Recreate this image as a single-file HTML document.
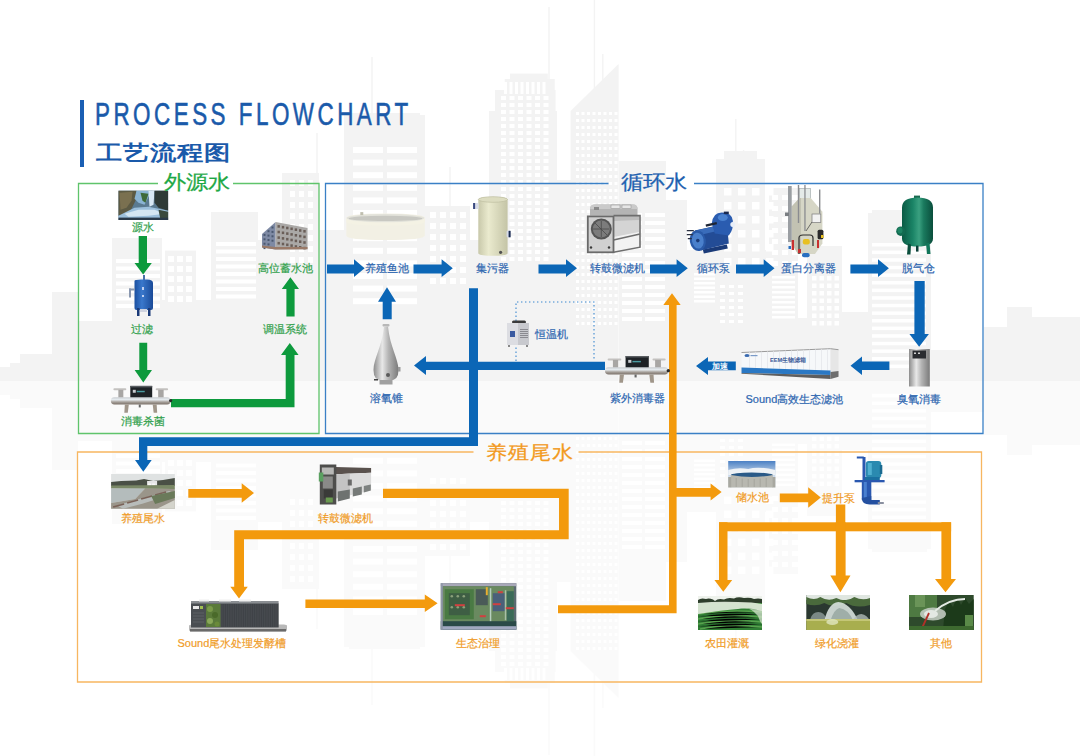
<!DOCTYPE html>
<html><head><meta charset="utf-8"><style>
html,body{margin:0;padding:0;background:#fff;width:1080px;height:756px;overflow:hidden}
body{position:relative;font-family:"Liberation Sans",sans-serif}
svg{position:absolute;left:0;top:0}
.lb{position:absolute;width:200px;text-align:center;line-height:1;white-space:nowrap;-webkit-text-stroke:0.2px currentColor}
.t{position:absolute;white-space:nowrap;line-height:1}
</style></head><body>
<svg width="1080" height="756" viewBox="0 0 1080 756">

<defs>
 <linearGradient id="steel" x1="0" y1="0" x2="0" y2="1">
  <stop offset="0" stop-color="#c8ccd0"/><stop offset="0.35" stop-color="#e6ecf0"/><stop offset="0.65" stop-color="#a8a29c"/><stop offset="1" stop-color="#7a7068"/>
 </linearGradient>
 <linearGradient id="steelH" x1="0" y1="0" x2="1" y2="0">
  <stop offset="0" stop-color="#8c8c8c"/><stop offset="0.35" stop-color="#e8e8e8"/><stop offset="0.6" stop-color="#b4b4b4"/><stop offset="1" stop-color="#7a7a7a"/>
 </linearGradient>
 <linearGradient id="blueTank" x1="0" y1="0" x2="1" y2="0">
  <stop offset="0" stop-color="#1a4fa0"/><stop offset="0.4" stop-color="#3a78cc"/><stop offset="1" stop-color="#1a4a98"/>
 </linearGradient>
 <linearGradient id="greenTank" x1="0" y1="0" x2="1" y2="0">
  <stop offset="0" stop-color="#0a5a44"/><stop offset="0.35" stop-color="#1a8466"/><stop offset="0.55" stop-color="#3aa080"/><stop offset="0.7" stop-color="#1a7a5e"/><stop offset="1" stop-color="#0a4e3c"/>
 </linearGradient>
 <linearGradient id="cream" x1="0" y1="0" x2="1" y2="0">
  <stop offset="0" stop-color="#c8c8aa"/><stop offset="0.35" stop-color="#eaeace"/><stop offset="1" stop-color="#c4c4a6"/>
 </linearGradient>
 <linearGradient id="sky" x1="0" y1="0" x2="0" y2="1">
  <stop offset="0" stop-color="#4a80c4"/><stop offset="0.5" stop-color="#c8d8ea"/><stop offset="1" stop-color="#e8eef2"/>
 </linearGradient>
 <linearGradient id="water" x1="0" y1="0" x2="1" y2="1">
  <stop offset="0" stop-color="#c8d8e4"/><stop offset="0.5" stop-color="#6a9ac0"/><stop offset="1" stop-color="#1a3a58"/>
 </linearGradient>
 <radialGradient id="spray" cx="0.5" cy="0.7" r="0.5">
  <stop offset="0" stop-color="#ffffff" stop-opacity="0.95"/><stop offset="1" stop-color="#ffffff" stop-opacity="0"/>
 </radialGradient>
</defs>
<g fill="#f3f3f3"><rect x="0" y="367" width="10" height="14"/><rect x="10" y="363" width="10" height="18"/><rect x="20" y="354" width="32" height="27"/><rect x="52" y="292" width="26" height="89"/><rect x="78" y="321" width="34" height="60"/><rect x="112" y="238" width="50" height="143"/><rect x="162" y="300" width="3" height="81"/><rect x="165" y="250.6" width="31" height="130.4"/><rect x="196" y="300" width="15" height="81"/><rect x="211" y="212" width="47" height="169"/><rect x="258" y="240" width="24" height="141"/><rect x="282" y="173" width="37" height="208"/><rect x="319" y="230" width="25" height="151"/><rect x="344" y="115" width="81" height="266"/><rect x="349" y="113" width="71" height="268"/><rect x="425" y="206" width="45" height="175"/><rect x="470" y="240" width="19" height="141"/><rect x="489" y="111" width="68" height="270"/><rect x="495" y="90" width="60.60000000000002" height="291"/><rect x="504.7" y="79" width="50.00000000000006" height="302"/><rect x="510" y="73.6" width="37.799999999999955" height="307.4"/><rect x="557" y="180" width="14" height="201"/><rect x="619" y="161" width="47" height="220"/><rect x="666" y="200" width="21" height="181"/><rect x="687" y="250" width="29" height="131"/><rect x="716" y="159" width="49" height="222"/><rect x="724" y="151" width="33" height="230"/><rect x="765" y="250" width="4" height="131"/><rect x="769" y="188" width="29" height="193"/><rect x="798" y="318" width="9" height="63"/><rect x="807" y="246" width="35" height="135"/><rect x="842" y="312" width="26" height="69"/><rect x="868" y="213" width="63" height="168"/><rect x="872" y="210" width="55" height="171"/><rect x="931" y="350" width="53" height="31"/><rect x="984" y="327" width="23" height="54"/><rect x="1007" y="307" width="25" height="74"/><rect x="1032" y="317" width="48" height="64"/><polygon points="570.6,111 618.6,64 618.6,381 570.6,381"/><rect x="548.3" y="7" width="1.4" height="73"/><rect x="593.6999999999999" y="0" width="1.4" height="90"/><rect x="602.0999999999999" y="54" width="1.4" height="26"/><rect x="316.3" y="133" width="1.4" height="42"/><rect x="371.3" y="57" width="1.4" height="61"/><rect x="735.0999999999999" y="119" width="1.4" height="33"/><rect x="742.9" y="150" width="1.4" height="2"/><rect x="449.3" y="167" width="1.4" height="41"/></g><g fill="#ffffff"><rect x="353.0" y="147.0" width="30" height="6"/><rect x="353.0" y="159.6" width="30" height="6"/><rect x="353.0" y="172.2" width="30" height="6"/><rect x="353.0" y="184.8" width="30" height="6"/><rect x="353.0" y="197.4" width="30" height="6"/><rect x="353.0" y="210.0" width="30" height="6"/><rect x="353.0" y="222.6" width="30" height="6"/><rect x="353.0" y="235.2" width="30" height="6"/><rect x="353.0" y="247.8" width="30" height="6"/><rect x="353.0" y="260.4" width="30" height="6"/><rect x="353.0" y="273.0" width="30" height="6"/><rect x="353.0" y="285.6" width="30" height="6"/><rect x="353.0" y="298.2" width="30" height="6"/><rect x="387.0" y="147.0" width="30" height="6"/><rect x="387.0" y="159.6" width="30" height="6"/><rect x="387.0" y="172.2" width="30" height="6"/><rect x="387.0" y="184.8" width="30" height="6"/><rect x="387.0" y="197.4" width="30" height="6"/><rect x="387.0" y="210.0" width="30" height="6"/><rect x="387.0" y="222.6" width="30" height="6"/><rect x="387.0" y="235.2" width="30" height="6"/><rect x="387.0" y="247.8" width="30" height="6"/><rect x="387.0" y="260.4" width="30" height="6"/><rect x="387.0" y="273.0" width="30" height="6"/><rect x="387.0" y="285.6" width="30" height="6"/><rect x="387.0" y="298.2" width="30" height="6"/><rect x="504.0" y="82.0" width="3" height="12"/><rect x="509.5" y="82.0" width="3" height="12"/><rect x="515.0" y="82.0" width="3" height="12"/><rect x="520.5" y="82.0" width="3" height="12"/><rect x="526.0" y="82.0" width="3" height="12"/><rect x="531.5" y="82.0" width="3" height="12"/><rect x="537.0" y="82.0" width="3" height="12"/><rect x="542.5" y="82.0" width="3" height="12"/><rect x="501.0" y="96.0" width="5" height="4"/><rect x="501.0" y="103.0" width="5" height="4"/><rect x="501.0" y="110.0" width="5" height="4"/><rect x="501.0" y="117.0" width="5" height="4"/><rect x="501.0" y="124.0" width="5" height="4"/><rect x="501.0" y="131.0" width="5" height="4"/><rect x="501.0" y="138.0" width="5" height="4"/><rect x="501.0" y="145.0" width="5" height="4"/><rect x="501.0" y="152.0" width="5" height="4"/><rect x="501.0" y="159.0" width="5" height="4"/><rect x="501.0" y="166.0" width="5" height="4"/><rect x="501.0" y="173.0" width="5" height="4"/><rect x="501.0" y="180.0" width="5" height="4"/><rect x="501.0" y="187.0" width="5" height="4"/><rect x="501.0" y="194.0" width="5" height="4"/><rect x="501.0" y="201.0" width="5" height="4"/><rect x="501.0" y="208.0" width="5" height="4"/><rect x="501.0" y="215.0" width="5" height="4"/><rect x="501.0" y="222.0" width="5" height="4"/><rect x="501.0" y="229.0" width="5" height="4"/><rect x="501.0" y="236.0" width="5" height="4"/><rect x="501.0" y="243.0" width="5" height="4"/><rect x="501.0" y="250.0" width="5" height="4"/><rect x="501.0" y="257.0" width="5" height="4"/><rect x="509.5" y="96.0" width="5" height="4"/><rect x="509.5" y="103.0" width="5" height="4"/><rect x="509.5" y="110.0" width="5" height="4"/><rect x="509.5" y="117.0" width="5" height="4"/><rect x="509.5" y="124.0" width="5" height="4"/><rect x="509.5" y="131.0" width="5" height="4"/><rect x="509.5" y="138.0" width="5" height="4"/><rect x="509.5" y="145.0" width="5" height="4"/><rect x="509.5" y="152.0" width="5" height="4"/><rect x="509.5" y="159.0" width="5" height="4"/><rect x="509.5" y="166.0" width="5" height="4"/><rect x="509.5" y="173.0" width="5" height="4"/><rect x="509.5" y="180.0" width="5" height="4"/><rect x="509.5" y="187.0" width="5" height="4"/><rect x="509.5" y="194.0" width="5" height="4"/><rect x="509.5" y="201.0" width="5" height="4"/><rect x="509.5" y="208.0" width="5" height="4"/><rect x="509.5" y="215.0" width="5" height="4"/><rect x="509.5" y="222.0" width="5" height="4"/><rect x="509.5" y="229.0" width="5" height="4"/><rect x="509.5" y="236.0" width="5" height="4"/><rect x="509.5" y="243.0" width="5" height="4"/><rect x="509.5" y="250.0" width="5" height="4"/><rect x="509.5" y="257.0" width="5" height="4"/><rect x="518.0" y="96.0" width="5" height="4"/><rect x="518.0" y="103.0" width="5" height="4"/><rect x="518.0" y="110.0" width="5" height="4"/><rect x="518.0" y="117.0" width="5" height="4"/><rect x="518.0" y="124.0" width="5" height="4"/><rect x="518.0" y="131.0" width="5" height="4"/><rect x="518.0" y="138.0" width="5" height="4"/><rect x="518.0" y="145.0" width="5" height="4"/><rect x="518.0" y="152.0" width="5" height="4"/><rect x="518.0" y="159.0" width="5" height="4"/><rect x="518.0" y="166.0" width="5" height="4"/><rect x="518.0" y="173.0" width="5" height="4"/><rect x="518.0" y="180.0" width="5" height="4"/><rect x="518.0" y="187.0" width="5" height="4"/><rect x="518.0" y="194.0" width="5" height="4"/><rect x="518.0" y="201.0" width="5" height="4"/><rect x="518.0" y="208.0" width="5" height="4"/><rect x="518.0" y="215.0" width="5" height="4"/><rect x="518.0" y="222.0" width="5" height="4"/><rect x="518.0" y="229.0" width="5" height="4"/><rect x="518.0" y="236.0" width="5" height="4"/><rect x="518.0" y="243.0" width="5" height="4"/><rect x="518.0" y="250.0" width="5" height="4"/><rect x="518.0" y="257.0" width="5" height="4"/><rect x="526.5" y="96.0" width="5" height="4"/><rect x="526.5" y="103.0" width="5" height="4"/><rect x="526.5" y="110.0" width="5" height="4"/><rect x="526.5" y="117.0" width="5" height="4"/><rect x="526.5" y="124.0" width="5" height="4"/><rect x="526.5" y="131.0" width="5" height="4"/><rect x="526.5" y="138.0" width="5" height="4"/><rect x="526.5" y="145.0" width="5" height="4"/><rect x="526.5" y="152.0" width="5" height="4"/><rect x="526.5" y="159.0" width="5" height="4"/><rect x="526.5" y="166.0" width="5" height="4"/><rect x="526.5" y="173.0" width="5" height="4"/><rect x="526.5" y="180.0" width="5" height="4"/><rect x="526.5" y="187.0" width="5" height="4"/><rect x="526.5" y="194.0" width="5" height="4"/><rect x="526.5" y="201.0" width="5" height="4"/><rect x="526.5" y="208.0" width="5" height="4"/><rect x="526.5" y="215.0" width="5" height="4"/><rect x="526.5" y="222.0" width="5" height="4"/><rect x="526.5" y="229.0" width="5" height="4"/><rect x="526.5" y="236.0" width="5" height="4"/><rect x="526.5" y="243.0" width="5" height="4"/><rect x="526.5" y="250.0" width="5" height="4"/><rect x="526.5" y="257.0" width="5" height="4"/><rect x="535.0" y="96.0" width="5" height="4"/><rect x="535.0" y="103.0" width="5" height="4"/><rect x="535.0" y="110.0" width="5" height="4"/><rect x="535.0" y="117.0" width="5" height="4"/><rect x="535.0" y="124.0" width="5" height="4"/><rect x="535.0" y="131.0" width="5" height="4"/><rect x="535.0" y="138.0" width="5" height="4"/><rect x="535.0" y="145.0" width="5" height="4"/><rect x="535.0" y="152.0" width="5" height="4"/><rect x="535.0" y="159.0" width="5" height="4"/><rect x="535.0" y="166.0" width="5" height="4"/><rect x="535.0" y="173.0" width="5" height="4"/><rect x="535.0" y="180.0" width="5" height="4"/><rect x="535.0" y="187.0" width="5" height="4"/><rect x="535.0" y="194.0" width="5" height="4"/><rect x="535.0" y="201.0" width="5" height="4"/><rect x="535.0" y="208.0" width="5" height="4"/><rect x="535.0" y="215.0" width="5" height="4"/><rect x="535.0" y="222.0" width="5" height="4"/><rect x="535.0" y="229.0" width="5" height="4"/><rect x="535.0" y="236.0" width="5" height="4"/><rect x="535.0" y="243.0" width="5" height="4"/><rect x="535.0" y="250.0" width="5" height="4"/><rect x="535.0" y="257.0" width="5" height="4"/><rect x="543.5" y="96.0" width="5" height="4"/><rect x="543.5" y="103.0" width="5" height="4"/><rect x="543.5" y="110.0" width="5" height="4"/><rect x="543.5" y="117.0" width="5" height="4"/><rect x="543.5" y="124.0" width="5" height="4"/><rect x="543.5" y="131.0" width="5" height="4"/><rect x="543.5" y="138.0" width="5" height="4"/><rect x="543.5" y="145.0" width="5" height="4"/><rect x="543.5" y="152.0" width="5" height="4"/><rect x="543.5" y="159.0" width="5" height="4"/><rect x="543.5" y="166.0" width="5" height="4"/><rect x="543.5" y="173.0" width="5" height="4"/><rect x="543.5" y="180.0" width="5" height="4"/><rect x="543.5" y="187.0" width="5" height="4"/><rect x="543.5" y="194.0" width="5" height="4"/><rect x="543.5" y="201.0" width="5" height="4"/><rect x="543.5" y="208.0" width="5" height="4"/><rect x="543.5" y="215.0" width="5" height="4"/><rect x="543.5" y="222.0" width="5" height="4"/><rect x="543.5" y="229.0" width="5" height="4"/><rect x="543.5" y="236.0" width="5" height="4"/><rect x="543.5" y="243.0" width="5" height="4"/><rect x="543.5" y="250.0" width="5" height="4"/><rect x="543.5" y="257.0" width="5" height="4"/><rect x="576.0" y="112.0" width="3" height="3"/><rect x="576.0" y="119.0" width="3" height="3"/><rect x="576.0" y="126.0" width="3" height="3"/><rect x="576.0" y="133.0" width="3" height="3"/><rect x="576.0" y="140.0" width="3" height="3"/><rect x="576.0" y="147.0" width="3" height="3"/><rect x="576.0" y="154.0" width="3" height="3"/><rect x="576.0" y="161.0" width="3" height="3"/><rect x="576.0" y="168.0" width="3" height="3"/><rect x="576.0" y="175.0" width="3" height="3"/><rect x="576.0" y="182.0" width="3" height="3"/><rect x="576.0" y="189.0" width="3" height="3"/><rect x="576.0" y="196.0" width="3" height="3"/><rect x="576.0" y="203.0" width="3" height="3"/><rect x="576.0" y="210.0" width="3" height="3"/><rect x="576.0" y="217.0" width="3" height="3"/><rect x="576.0" y="224.0" width="3" height="3"/><rect x="576.0" y="231.0" width="3" height="3"/><rect x="576.0" y="238.0" width="3" height="3"/><rect x="576.0" y="245.0" width="3" height="3"/><rect x="576.0" y="252.0" width="3" height="3"/><rect x="576.0" y="259.0" width="3" height="3"/><rect x="576.0" y="266.0" width="3" height="3"/><rect x="576.0" y="273.0" width="3" height="3"/><rect x="576.0" y="280.0" width="3" height="3"/><rect x="576.0" y="287.0" width="3" height="3"/><rect x="576.0" y="294.0" width="3" height="3"/><rect x="576.0" y="301.0" width="3" height="3"/><rect x="576.0" y="308.0" width="3" height="3"/><rect x="576.0" y="315.0" width="3" height="3"/><rect x="576.0" y="322.0" width="3" height="3"/><rect x="581.5" y="112.0" width="3" height="3"/><rect x="581.5" y="119.0" width="3" height="3"/><rect x="581.5" y="126.0" width="3" height="3"/><rect x="581.5" y="133.0" width="3" height="3"/><rect x="581.5" y="140.0" width="3" height="3"/><rect x="581.5" y="147.0" width="3" height="3"/><rect x="581.5" y="154.0" width="3" height="3"/><rect x="581.5" y="161.0" width="3" height="3"/><rect x="581.5" y="168.0" width="3" height="3"/><rect x="581.5" y="175.0" width="3" height="3"/><rect x="581.5" y="182.0" width="3" height="3"/><rect x="581.5" y="189.0" width="3" height="3"/><rect x="581.5" y="196.0" width="3" height="3"/><rect x="581.5" y="203.0" width="3" height="3"/><rect x="581.5" y="210.0" width="3" height="3"/><rect x="581.5" y="217.0" width="3" height="3"/><rect x="581.5" y="224.0" width="3" height="3"/><rect x="581.5" y="231.0" width="3" height="3"/><rect x="581.5" y="238.0" width="3" height="3"/><rect x="581.5" y="245.0" width="3" height="3"/><rect x="581.5" y="252.0" width="3" height="3"/><rect x="581.5" y="259.0" width="3" height="3"/><rect x="581.5" y="266.0" width="3" height="3"/><rect x="581.5" y="273.0" width="3" height="3"/><rect x="581.5" y="280.0" width="3" height="3"/><rect x="581.5" y="287.0" width="3" height="3"/><rect x="581.5" y="294.0" width="3" height="3"/><rect x="581.5" y="301.0" width="3" height="3"/><rect x="581.5" y="308.0" width="3" height="3"/><rect x="581.5" y="315.0" width="3" height="3"/><rect x="581.5" y="322.0" width="3" height="3"/><rect x="587.0" y="112.0" width="3" height="3"/><rect x="587.0" y="119.0" width="3" height="3"/><rect x="587.0" y="126.0" width="3" height="3"/><rect x="587.0" y="133.0" width="3" height="3"/><rect x="587.0" y="140.0" width="3" height="3"/><rect x="587.0" y="147.0" width="3" height="3"/><rect x="587.0" y="154.0" width="3" height="3"/><rect x="587.0" y="161.0" width="3" height="3"/><rect x="587.0" y="168.0" width="3" height="3"/><rect x="587.0" y="175.0" width="3" height="3"/><rect x="587.0" y="182.0" width="3" height="3"/><rect x="587.0" y="189.0" width="3" height="3"/><rect x="587.0" y="196.0" width="3" height="3"/><rect x="587.0" y="203.0" width="3" height="3"/><rect x="587.0" y="210.0" width="3" height="3"/><rect x="587.0" y="217.0" width="3" height="3"/><rect x="587.0" y="224.0" width="3" height="3"/><rect x="587.0" y="231.0" width="3" height="3"/><rect x="587.0" y="238.0" width="3" height="3"/><rect x="587.0" y="245.0" width="3" height="3"/><rect x="587.0" y="252.0" width="3" height="3"/><rect x="587.0" y="259.0" width="3" height="3"/><rect x="587.0" y="266.0" width="3" height="3"/><rect x="587.0" y="273.0" width="3" height="3"/><rect x="587.0" y="280.0" width="3" height="3"/><rect x="587.0" y="287.0" width="3" height="3"/><rect x="587.0" y="294.0" width="3" height="3"/><rect x="587.0" y="301.0" width="3" height="3"/><rect x="587.0" y="308.0" width="3" height="3"/><rect x="587.0" y="315.0" width="3" height="3"/><rect x="587.0" y="322.0" width="3" height="3"/><rect x="592.5" y="112.0" width="3" height="3"/><rect x="592.5" y="119.0" width="3" height="3"/><rect x="592.5" y="126.0" width="3" height="3"/><rect x="592.5" y="133.0" width="3" height="3"/><rect x="592.5" y="140.0" width="3" height="3"/><rect x="592.5" y="147.0" width="3" height="3"/><rect x="592.5" y="154.0" width="3" height="3"/><rect x="592.5" y="161.0" width="3" height="3"/><rect x="592.5" y="168.0" width="3" height="3"/><rect x="592.5" y="175.0" width="3" height="3"/><rect x="592.5" y="182.0" width="3" height="3"/><rect x="592.5" y="189.0" width="3" height="3"/><rect x="592.5" y="196.0" width="3" height="3"/><rect x="592.5" y="203.0" width="3" height="3"/><rect x="592.5" y="210.0" width="3" height="3"/><rect x="592.5" y="217.0" width="3" height="3"/><rect x="592.5" y="224.0" width="3" height="3"/><rect x="592.5" y="231.0" width="3" height="3"/><rect x="592.5" y="238.0" width="3" height="3"/><rect x="592.5" y="245.0" width="3" height="3"/><rect x="592.5" y="252.0" width="3" height="3"/><rect x="592.5" y="259.0" width="3" height="3"/><rect x="592.5" y="266.0" width="3" height="3"/><rect x="592.5" y="273.0" width="3" height="3"/><rect x="592.5" y="280.0" width="3" height="3"/><rect x="592.5" y="287.0" width="3" height="3"/><rect x="592.5" y="294.0" width="3" height="3"/><rect x="592.5" y="301.0" width="3" height="3"/><rect x="592.5" y="308.0" width="3" height="3"/><rect x="592.5" y="315.0" width="3" height="3"/><rect x="592.5" y="322.0" width="3" height="3"/><rect x="598.0" y="112.0" width="3" height="3"/><rect x="598.0" y="119.0" width="3" height="3"/><rect x="598.0" y="126.0" width="3" height="3"/><rect x="598.0" y="133.0" width="3" height="3"/><rect x="598.0" y="140.0" width="3" height="3"/><rect x="598.0" y="147.0" width="3" height="3"/><rect x="598.0" y="154.0" width="3" height="3"/><rect x="598.0" y="161.0" width="3" height="3"/><rect x="598.0" y="168.0" width="3" height="3"/><rect x="598.0" y="175.0" width="3" height="3"/><rect x="598.0" y="182.0" width="3" height="3"/><rect x="598.0" y="189.0" width="3" height="3"/><rect x="598.0" y="196.0" width="3" height="3"/><rect x="598.0" y="203.0" width="3" height="3"/><rect x="598.0" y="210.0" width="3" height="3"/><rect x="598.0" y="217.0" width="3" height="3"/><rect x="598.0" y="224.0" width="3" height="3"/><rect x="598.0" y="231.0" width="3" height="3"/><rect x="598.0" y="238.0" width="3" height="3"/><rect x="598.0" y="245.0" width="3" height="3"/><rect x="598.0" y="252.0" width="3" height="3"/><rect x="598.0" y="259.0" width="3" height="3"/><rect x="598.0" y="266.0" width="3" height="3"/><rect x="598.0" y="273.0" width="3" height="3"/><rect x="598.0" y="280.0" width="3" height="3"/><rect x="598.0" y="287.0" width="3" height="3"/><rect x="598.0" y="294.0" width="3" height="3"/><rect x="598.0" y="301.0" width="3" height="3"/><rect x="598.0" y="308.0" width="3" height="3"/><rect x="598.0" y="315.0" width="3" height="3"/><rect x="598.0" y="322.0" width="3" height="3"/><rect x="603.5" y="112.0" width="3" height="3"/><rect x="603.5" y="119.0" width="3" height="3"/><rect x="603.5" y="126.0" width="3" height="3"/><rect x="603.5" y="133.0" width="3" height="3"/><rect x="603.5" y="140.0" width="3" height="3"/><rect x="603.5" y="147.0" width="3" height="3"/><rect x="603.5" y="154.0" width="3" height="3"/><rect x="603.5" y="161.0" width="3" height="3"/><rect x="603.5" y="168.0" width="3" height="3"/><rect x="603.5" y="175.0" width="3" height="3"/><rect x="603.5" y="182.0" width="3" height="3"/><rect x="603.5" y="189.0" width="3" height="3"/><rect x="603.5" y="196.0" width="3" height="3"/><rect x="603.5" y="203.0" width="3" height="3"/><rect x="603.5" y="210.0" width="3" height="3"/><rect x="603.5" y="217.0" width="3" height="3"/><rect x="603.5" y="224.0" width="3" height="3"/><rect x="603.5" y="231.0" width="3" height="3"/><rect x="603.5" y="238.0" width="3" height="3"/><rect x="603.5" y="245.0" width="3" height="3"/><rect x="603.5" y="252.0" width="3" height="3"/><rect x="603.5" y="259.0" width="3" height="3"/><rect x="603.5" y="266.0" width="3" height="3"/><rect x="603.5" y="273.0" width="3" height="3"/><rect x="603.5" y="280.0" width="3" height="3"/><rect x="603.5" y="287.0" width="3" height="3"/><rect x="603.5" y="294.0" width="3" height="3"/><rect x="603.5" y="301.0" width="3" height="3"/><rect x="603.5" y="308.0" width="3" height="3"/><rect x="603.5" y="315.0" width="3" height="3"/><rect x="603.5" y="322.0" width="3" height="3"/><rect x="609.0" y="112.0" width="3" height="3"/><rect x="609.0" y="119.0" width="3" height="3"/><rect x="609.0" y="126.0" width="3" height="3"/><rect x="609.0" y="133.0" width="3" height="3"/><rect x="609.0" y="140.0" width="3" height="3"/><rect x="609.0" y="147.0" width="3" height="3"/><rect x="609.0" y="154.0" width="3" height="3"/><rect x="609.0" y="161.0" width="3" height="3"/><rect x="609.0" y="168.0" width="3" height="3"/><rect x="609.0" y="175.0" width="3" height="3"/><rect x="609.0" y="182.0" width="3" height="3"/><rect x="609.0" y="189.0" width="3" height="3"/><rect x="609.0" y="196.0" width="3" height="3"/><rect x="609.0" y="203.0" width="3" height="3"/><rect x="609.0" y="210.0" width="3" height="3"/><rect x="609.0" y="217.0" width="3" height="3"/><rect x="609.0" y="224.0" width="3" height="3"/><rect x="609.0" y="231.0" width="3" height="3"/><rect x="609.0" y="238.0" width="3" height="3"/><rect x="609.0" y="245.0" width="3" height="3"/><rect x="609.0" y="252.0" width="3" height="3"/><rect x="609.0" y="259.0" width="3" height="3"/><rect x="609.0" y="266.0" width="3" height="3"/><rect x="609.0" y="273.0" width="3" height="3"/><rect x="609.0" y="280.0" width="3" height="3"/><rect x="609.0" y="287.0" width="3" height="3"/><rect x="609.0" y="294.0" width="3" height="3"/><rect x="609.0" y="301.0" width="3" height="3"/><rect x="609.0" y="308.0" width="3" height="3"/><rect x="609.0" y="315.0" width="3" height="3"/><rect x="609.0" y="322.0" width="3" height="3"/><rect x="614.5" y="112.0" width="3" height="3"/><rect x="614.5" y="119.0" width="3" height="3"/><rect x="614.5" y="126.0" width="3" height="3"/><rect x="614.5" y="133.0" width="3" height="3"/><rect x="614.5" y="140.0" width="3" height="3"/><rect x="614.5" y="147.0" width="3" height="3"/><rect x="614.5" y="154.0" width="3" height="3"/><rect x="614.5" y="161.0" width="3" height="3"/><rect x="614.5" y="168.0" width="3" height="3"/><rect x="614.5" y="175.0" width="3" height="3"/><rect x="614.5" y="182.0" width="3" height="3"/><rect x="614.5" y="189.0" width="3" height="3"/><rect x="614.5" y="196.0" width="3" height="3"/><rect x="614.5" y="203.0" width="3" height="3"/><rect x="614.5" y="210.0" width="3" height="3"/><rect x="614.5" y="217.0" width="3" height="3"/><rect x="614.5" y="224.0" width="3" height="3"/><rect x="614.5" y="231.0" width="3" height="3"/><rect x="614.5" y="238.0" width="3" height="3"/><rect x="614.5" y="245.0" width="3" height="3"/><rect x="614.5" y="252.0" width="3" height="3"/><rect x="614.5" y="259.0" width="3" height="3"/><rect x="614.5" y="266.0" width="3" height="3"/><rect x="614.5" y="273.0" width="3" height="3"/><rect x="614.5" y="280.0" width="3" height="3"/><rect x="614.5" y="287.0" width="3" height="3"/><rect x="614.5" y="294.0" width="3" height="3"/><rect x="614.5" y="301.0" width="3" height="3"/><rect x="614.5" y="308.0" width="3" height="3"/><rect x="614.5" y="315.0" width="3" height="3"/><rect x="614.5" y="322.0" width="3" height="3"/><rect x="724.0" y="188.0" width="7.5" height="7.5"/><rect x="724.0" y="202.0" width="7.5" height="7.5"/><rect x="724.0" y="216.0" width="7.5" height="7.5"/><rect x="724.0" y="230.0" width="7.5" height="7.5"/><rect x="724.0" y="244.0" width="7.5" height="7.5"/><rect x="724.0" y="258.0" width="7.5" height="7.5"/><rect x="738.0" y="188.0" width="7.5" height="7.5"/><rect x="738.0" y="202.0" width="7.5" height="7.5"/><rect x="738.0" y="216.0" width="7.5" height="7.5"/><rect x="738.0" y="230.0" width="7.5" height="7.5"/><rect x="738.0" y="244.0" width="7.5" height="7.5"/><rect x="738.0" y="258.0" width="7.5" height="7.5"/><rect x="752.0" y="188.0" width="7.5" height="7.5"/><rect x="752.0" y="202.0" width="7.5" height="7.5"/><rect x="752.0" y="216.0" width="7.5" height="7.5"/><rect x="752.0" y="230.0" width="7.5" height="7.5"/><rect x="752.0" y="244.0" width="7.5" height="7.5"/><rect x="752.0" y="258.0" width="7.5" height="7.5"/><rect x="766.0" y="188.0" width="7.5" height="7.5"/><rect x="766.0" y="202.0" width="7.5" height="7.5"/><rect x="766.0" y="216.0" width="7.5" height="7.5"/><rect x="766.0" y="230.0" width="7.5" height="7.5"/><rect x="766.0" y="244.0" width="7.5" height="7.5"/><rect x="766.0" y="258.0" width="7.5" height="7.5"/><rect x="622.0" y="213.0" width="20" height="4"/><rect x="622.0" y="221.0" width="20" height="4"/><rect x="622.0" y="229.0" width="20" height="4"/><rect x="622.0" y="237.0" width="20" height="4"/><rect x="622.0" y="245.0" width="20" height="4"/><rect x="622.0" y="253.0" width="20" height="4"/><rect x="622.0" y="261.0" width="20" height="4"/><rect x="622.0" y="269.0" width="20" height="4"/><rect x="622.0" y="277.0" width="20" height="4"/><rect x="622.0" y="285.0" width="20" height="4"/><rect x="622.0" y="293.0" width="20" height="4"/><rect x="622.0" y="301.0" width="20" height="4"/><rect x="622.0" y="309.0" width="20" height="4"/><rect x="622.0" y="317.0" width="20" height="4"/><rect x="645.0" y="213.0" width="20" height="4"/><rect x="645.0" y="221.0" width="20" height="4"/><rect x="645.0" y="229.0" width="20" height="4"/><rect x="645.0" y="237.0" width="20" height="4"/><rect x="645.0" y="245.0" width="20" height="4"/><rect x="645.0" y="253.0" width="20" height="4"/><rect x="645.0" y="261.0" width="20" height="4"/><rect x="645.0" y="269.0" width="20" height="4"/><rect x="645.0" y="277.0" width="20" height="4"/><rect x="645.0" y="285.0" width="20" height="4"/><rect x="645.0" y="293.0" width="20" height="4"/><rect x="645.0" y="301.0" width="20" height="4"/><rect x="645.0" y="309.0" width="20" height="4"/><rect x="645.0" y="317.0" width="20" height="4"/><rect x="772.0" y="195.0" width="6" height="5"/><rect x="772.0" y="206.0" width="6" height="5"/><rect x="772.0" y="217.0" width="6" height="5"/><rect x="772.0" y="228.0" width="6" height="5"/><rect x="772.0" y="239.0" width="6" height="5"/><rect x="772.0" y="250.0" width="6" height="5"/><rect x="772.0" y="261.0" width="6" height="5"/><rect x="782.0" y="195.0" width="6" height="5"/><rect x="782.0" y="206.0" width="6" height="5"/><rect x="782.0" y="217.0" width="6" height="5"/><rect x="782.0" y="228.0" width="6" height="5"/><rect x="782.0" y="239.0" width="6" height="5"/><rect x="782.0" y="250.0" width="6" height="5"/><rect x="782.0" y="261.0" width="6" height="5"/><rect x="792.0" y="195.0" width="6" height="5"/><rect x="792.0" y="206.0" width="6" height="5"/><rect x="792.0" y="217.0" width="6" height="5"/><rect x="792.0" y="228.0" width="6" height="5"/><rect x="792.0" y="239.0" width="6" height="5"/><rect x="792.0" y="250.0" width="6" height="5"/><rect x="792.0" y="261.0" width="6" height="5"/><rect x="872.0" y="243.0" width="54" height="3.5"/><rect x="872.0" y="250.6" width="54" height="3.5"/><rect x="872.0" y="258.2" width="54" height="3.5"/><rect x="872.0" y="265.8" width="54" height="3.5"/><rect x="872.0" y="273.4" width="54" height="3.5"/><rect x="872.0" y="281.0" width="54" height="3.5"/><rect x="872.0" y="288.6" width="54" height="3.5"/><rect x="872.0" y="296.2" width="54" height="3.5"/><rect x="872.0" y="303.8" width="54" height="3.5"/><rect x="872.0" y="311.4" width="54" height="3.5"/><rect x="872.0" y="319.0" width="54" height="3.5"/><rect x="872.0" y="326.6" width="54" height="3.5"/><rect x="872.0" y="334.2" width="54" height="3.5"/><rect x="872.0" y="341.8" width="54" height="3.5"/><rect x="872.0" y="349.4" width="54" height="3.5"/><rect x="872.0" y="357.0" width="54" height="3.5"/><rect x="872.0" y="364.6" width="54" height="3.5"/><rect x="290.0" y="180.0" width="5" height="6"/><rect x="290.0" y="191.0" width="5" height="6"/><rect x="290.0" y="202.0" width="5" height="6"/><rect x="290.0" y="213.0" width="5" height="6"/><rect x="290.0" y="224.0" width="5" height="6"/><rect x="290.0" y="235.0" width="5" height="6"/><rect x="290.0" y="246.0" width="5" height="6"/><rect x="290.0" y="257.0" width="5" height="6"/><rect x="299.0" y="180.0" width="5" height="6"/><rect x="299.0" y="191.0" width="5" height="6"/><rect x="299.0" y="202.0" width="5" height="6"/><rect x="299.0" y="213.0" width="5" height="6"/><rect x="299.0" y="224.0" width="5" height="6"/><rect x="299.0" y="235.0" width="5" height="6"/><rect x="299.0" y="246.0" width="5" height="6"/><rect x="299.0" y="257.0" width="5" height="6"/><rect x="308.0" y="180.0" width="5" height="6"/><rect x="308.0" y="191.0" width="5" height="6"/><rect x="308.0" y="202.0" width="5" height="6"/><rect x="308.0" y="213.0" width="5" height="6"/><rect x="308.0" y="224.0" width="5" height="6"/><rect x="308.0" y="235.0" width="5" height="6"/><rect x="308.0" y="246.0" width="5" height="6"/><rect x="308.0" y="257.0" width="5" height="6"/><rect x="430.0" y="212.0" width="6" height="6"/><rect x="430.0" y="223.0" width="6" height="6"/><rect x="430.0" y="234.0" width="6" height="6"/><rect x="430.0" y="245.0" width="6" height="6"/><rect x="430.0" y="256.0" width="6" height="6"/><rect x="430.0" y="267.0" width="6" height="6"/><rect x="430.0" y="278.0" width="6" height="6"/><rect x="440.0" y="212.0" width="6" height="6"/><rect x="440.0" y="223.0" width="6" height="6"/><rect x="440.0" y="234.0" width="6" height="6"/><rect x="440.0" y="245.0" width="6" height="6"/><rect x="440.0" y="256.0" width="6" height="6"/><rect x="440.0" y="267.0" width="6" height="6"/><rect x="440.0" y="278.0" width="6" height="6"/><rect x="450.0" y="212.0" width="6" height="6"/><rect x="450.0" y="223.0" width="6" height="6"/><rect x="450.0" y="234.0" width="6" height="6"/><rect x="450.0" y="245.0" width="6" height="6"/><rect x="450.0" y="256.0" width="6" height="6"/><rect x="450.0" y="267.0" width="6" height="6"/><rect x="450.0" y="278.0" width="6" height="6"/><rect x="460.0" y="212.0" width="6" height="6"/><rect x="460.0" y="223.0" width="6" height="6"/><rect x="460.0" y="234.0" width="6" height="6"/><rect x="460.0" y="245.0" width="6" height="6"/><rect x="460.0" y="256.0" width="6" height="6"/><rect x="460.0" y="267.0" width="6" height="6"/><rect x="460.0" y="278.0" width="6" height="6"/><rect x="116.0" y="259.0" width="44" height="4"/><rect x="116.0" y="266.5" width="44" height="4"/><rect x="116.0" y="274.0" width="44" height="4"/><rect x="116.0" y="281.5" width="44" height="4"/><rect x="116.0" y="289.0" width="44" height="4"/><rect x="116.0" y="296.5" width="44" height="4"/><rect x="116.0" y="304.0" width="44" height="4"/><rect x="168.0" y="256.0" width="6" height="6"/><rect x="168.0" y="266.0" width="6" height="6"/><rect x="168.0" y="276.0" width="6" height="6"/><rect x="168.0" y="286.0" width="6" height="6"/><rect x="168.0" y="296.0" width="6" height="6"/><rect x="177.0" y="256.0" width="6" height="6"/><rect x="177.0" y="266.0" width="6" height="6"/><rect x="177.0" y="276.0" width="6" height="6"/><rect x="177.0" y="286.0" width="6" height="6"/><rect x="177.0" y="296.0" width="6" height="6"/><rect x="186.0" y="256.0" width="6" height="6"/><rect x="186.0" y="266.0" width="6" height="6"/><rect x="186.0" y="276.0" width="6" height="6"/><rect x="186.0" y="286.0" width="6" height="6"/><rect x="186.0" y="296.0" width="6" height="6"/><rect x="216.0" y="242.0" width="40" height="4"/><rect x="216.0" y="249.5" width="40" height="4"/><rect x="216.0" y="257.0" width="40" height="4"/><rect x="216.0" y="264.5" width="40" height="4"/><rect x="216.0" y="272.0" width="40" height="4"/><rect x="216.0" y="279.5" width="40" height="4"/><rect x="216.0" y="287.0" width="40" height="4"/><rect x="216.0" y="294.5" width="40" height="4"/><rect x="694.0" y="273.0" width="21" height="2.5"/><rect x="694.0" y="277.5" width="21" height="2.5"/><rect x="694.0" y="282.0" width="21" height="2.5"/><rect x="694.0" y="286.5" width="21" height="2.5"/><rect x="694.0" y="291.0" width="21" height="2.5"/><rect x="694.0" y="295.5" width="21" height="2.5"/><rect x="694.0" y="300.0" width="21" height="2.5"/><rect x="720.0" y="285.0" width="5" height="3"/><rect x="720.0" y="292.0" width="5" height="3"/><rect x="720.0" y="299.0" width="5" height="3"/><rect x="720.0" y="306.0" width="5" height="3"/><rect x="720.0" y="313.0" width="5" height="3"/><rect x="720.0" y="320.0" width="5" height="3"/><rect x="729.0" y="285.0" width="5" height="3"/><rect x="729.0" y="292.0" width="5" height="3"/><rect x="729.0" y="299.0" width="5" height="3"/><rect x="729.0" y="306.0" width="5" height="3"/><rect x="729.0" y="313.0" width="5" height="3"/><rect x="729.0" y="320.0" width="5" height="3"/><rect x="738.0" y="285.0" width="5" height="3"/><rect x="738.0" y="292.0" width="5" height="3"/><rect x="738.0" y="299.0" width="5" height="3"/><rect x="738.0" y="306.0" width="5" height="3"/><rect x="738.0" y="313.0" width="5" height="3"/><rect x="738.0" y="320.0" width="5" height="3"/><rect x="772.0" y="276.0" width="23" height="2.5"/><rect x="772.0" y="281.0" width="23" height="2.5"/><rect x="772.0" y="286.0" width="23" height="2.5"/><rect x="772.0" y="291.0" width="23" height="2.5"/><rect x="772.0" y="296.0" width="23" height="2.5"/><rect x="772.0" y="301.0" width="23" height="2.5"/><rect x="772.0" y="306.0" width="23" height="2.5"/><rect x="772.0" y="311.0" width="23" height="2.5"/><rect x="772.0" y="316.0" width="23" height="2.5"/><rect x="812.0" y="276.0" width="4.5" height="4.5"/><rect x="812.0" y="283.5" width="4.5" height="4.5"/><rect x="812.0" y="291.0" width="4.5" height="4.5"/><rect x="812.0" y="298.5" width="4.5" height="4.5"/><rect x="812.0" y="306.0" width="4.5" height="4.5"/><rect x="812.0" y="313.5" width="4.5" height="4.5"/><rect x="812.0" y="321.0" width="4.5" height="4.5"/><rect x="819.5" y="276.0" width="4.5" height="4.5"/><rect x="819.5" y="283.5" width="4.5" height="4.5"/><rect x="819.5" y="291.0" width="4.5" height="4.5"/><rect x="819.5" y="298.5" width="4.5" height="4.5"/><rect x="819.5" y="306.0" width="4.5" height="4.5"/><rect x="819.5" y="313.5" width="4.5" height="4.5"/><rect x="819.5" y="321.0" width="4.5" height="4.5"/><rect x="827.0" y="276.0" width="4.5" height="4.5"/><rect x="827.0" y="283.5" width="4.5" height="4.5"/><rect x="827.0" y="291.0" width="4.5" height="4.5"/><rect x="827.0" y="298.5" width="4.5" height="4.5"/><rect x="827.0" y="306.0" width="4.5" height="4.5"/><rect x="827.0" y="313.5" width="4.5" height="4.5"/><rect x="827.0" y="321.0" width="4.5" height="4.5"/><rect x="834.5" y="276.0" width="4.5" height="4.5"/><rect x="834.5" y="283.5" width="4.5" height="4.5"/><rect x="834.5" y="291.0" width="4.5" height="4.5"/><rect x="834.5" y="298.5" width="4.5" height="4.5"/><rect x="834.5" y="306.0" width="4.5" height="4.5"/><rect x="834.5" y="313.5" width="4.5" height="4.5"/><rect x="834.5" y="321.0" width="4.5" height="4.5"/></g>
<g transform="translate(0,762) scale(1,-1)" opacity="0.35"><g fill="#f3f3f3"><rect x="0" y="367" width="10" height="14"/><rect x="10" y="363" width="10" height="18"/><rect x="20" y="354" width="32" height="27"/><rect x="52" y="292" width="26" height="89"/><rect x="78" y="321" width="34" height="60"/><rect x="112" y="238" width="50" height="143"/><rect x="162" y="300" width="3" height="81"/><rect x="165" y="250.6" width="31" height="130.4"/><rect x="196" y="300" width="15" height="81"/><rect x="211" y="212" width="47" height="169"/><rect x="258" y="240" width="24" height="141"/><rect x="282" y="173" width="37" height="208"/><rect x="319" y="230" width="25" height="151"/><rect x="344" y="115" width="81" height="266"/><rect x="349" y="113" width="71" height="268"/><rect x="425" y="206" width="45" height="175"/><rect x="470" y="240" width="19" height="141"/><rect x="489" y="111" width="68" height="270"/><rect x="495" y="90" width="60.60000000000002" height="291"/><rect x="504.7" y="79" width="50.00000000000006" height="302"/><rect x="510" y="73.6" width="37.799999999999955" height="307.4"/><rect x="557" y="180" width="14" height="201"/><rect x="619" y="161" width="47" height="220"/><rect x="666" y="200" width="21" height="181"/><rect x="687" y="250" width="29" height="131"/><rect x="716" y="159" width="49" height="222"/><rect x="724" y="151" width="33" height="230"/><rect x="765" y="250" width="4" height="131"/><rect x="769" y="188" width="29" height="193"/><rect x="798" y="318" width="9" height="63"/><rect x="807" y="246" width="35" height="135"/><rect x="842" y="312" width="26" height="69"/><rect x="868" y="213" width="63" height="168"/><rect x="872" y="210" width="55" height="171"/><rect x="931" y="350" width="53" height="31"/><rect x="984" y="327" width="23" height="54"/><rect x="1007" y="307" width="25" height="74"/><rect x="1032" y="317" width="48" height="64"/><polygon points="570.6,111 618.6,64 618.6,381 570.6,381"/><rect x="548.3" y="7" width="1.4" height="73"/><rect x="593.6999999999999" y="0" width="1.4" height="90"/><rect x="602.0999999999999" y="54" width="1.4" height="26"/><rect x="316.3" y="133" width="1.4" height="42"/><rect x="371.3" y="57" width="1.4" height="61"/><rect x="735.0999999999999" y="119" width="1.4" height="33"/><rect x="742.9" y="150" width="1.4" height="2"/><rect x="449.3" y="167" width="1.4" height="41"/></g><g fill="#ffffff"><rect x="353.0" y="147.0" width="30" height="6"/><rect x="353.0" y="159.6" width="30" height="6"/><rect x="353.0" y="172.2" width="30" height="6"/><rect x="353.0" y="184.8" width="30" height="6"/><rect x="353.0" y="197.4" width="30" height="6"/><rect x="353.0" y="210.0" width="30" height="6"/><rect x="353.0" y="222.6" width="30" height="6"/><rect x="353.0" y="235.2" width="30" height="6"/><rect x="353.0" y="247.8" width="30" height="6"/><rect x="353.0" y="260.4" width="30" height="6"/><rect x="353.0" y="273.0" width="30" height="6"/><rect x="353.0" y="285.6" width="30" height="6"/><rect x="353.0" y="298.2" width="30" height="6"/><rect x="387.0" y="147.0" width="30" height="6"/><rect x="387.0" y="159.6" width="30" height="6"/><rect x="387.0" y="172.2" width="30" height="6"/><rect x="387.0" y="184.8" width="30" height="6"/><rect x="387.0" y="197.4" width="30" height="6"/><rect x="387.0" y="210.0" width="30" height="6"/><rect x="387.0" y="222.6" width="30" height="6"/><rect x="387.0" y="235.2" width="30" height="6"/><rect x="387.0" y="247.8" width="30" height="6"/><rect x="387.0" y="260.4" width="30" height="6"/><rect x="387.0" y="273.0" width="30" height="6"/><rect x="387.0" y="285.6" width="30" height="6"/><rect x="387.0" y="298.2" width="30" height="6"/><rect x="504.0" y="82.0" width="3" height="12"/><rect x="509.5" y="82.0" width="3" height="12"/><rect x="515.0" y="82.0" width="3" height="12"/><rect x="520.5" y="82.0" width="3" height="12"/><rect x="526.0" y="82.0" width="3" height="12"/><rect x="531.5" y="82.0" width="3" height="12"/><rect x="537.0" y="82.0" width="3" height="12"/><rect x="542.5" y="82.0" width="3" height="12"/><rect x="501.0" y="96.0" width="5" height="4"/><rect x="501.0" y="103.0" width="5" height="4"/><rect x="501.0" y="110.0" width="5" height="4"/><rect x="501.0" y="117.0" width="5" height="4"/><rect x="501.0" y="124.0" width="5" height="4"/><rect x="501.0" y="131.0" width="5" height="4"/><rect x="501.0" y="138.0" width="5" height="4"/><rect x="501.0" y="145.0" width="5" height="4"/><rect x="501.0" y="152.0" width="5" height="4"/><rect x="501.0" y="159.0" width="5" height="4"/><rect x="501.0" y="166.0" width="5" height="4"/><rect x="501.0" y="173.0" width="5" height="4"/><rect x="501.0" y="180.0" width="5" height="4"/><rect x="501.0" y="187.0" width="5" height="4"/><rect x="501.0" y="194.0" width="5" height="4"/><rect x="501.0" y="201.0" width="5" height="4"/><rect x="501.0" y="208.0" width="5" height="4"/><rect x="501.0" y="215.0" width="5" height="4"/><rect x="501.0" y="222.0" width="5" height="4"/><rect x="501.0" y="229.0" width="5" height="4"/><rect x="501.0" y="236.0" width="5" height="4"/><rect x="501.0" y="243.0" width="5" height="4"/><rect x="501.0" y="250.0" width="5" height="4"/><rect x="501.0" y="257.0" width="5" height="4"/><rect x="509.5" y="96.0" width="5" height="4"/><rect x="509.5" y="103.0" width="5" height="4"/><rect x="509.5" y="110.0" width="5" height="4"/><rect x="509.5" y="117.0" width="5" height="4"/><rect x="509.5" y="124.0" width="5" height="4"/><rect x="509.5" y="131.0" width="5" height="4"/><rect x="509.5" y="138.0" width="5" height="4"/><rect x="509.5" y="145.0" width="5" height="4"/><rect x="509.5" y="152.0" width="5" height="4"/><rect x="509.5" y="159.0" width="5" height="4"/><rect x="509.5" y="166.0" width="5" height="4"/><rect x="509.5" y="173.0" width="5" height="4"/><rect x="509.5" y="180.0" width="5" height="4"/><rect x="509.5" y="187.0" width="5" height="4"/><rect x="509.5" y="194.0" width="5" height="4"/><rect x="509.5" y="201.0" width="5" height="4"/><rect x="509.5" y="208.0" width="5" height="4"/><rect x="509.5" y="215.0" width="5" height="4"/><rect x="509.5" y="222.0" width="5" height="4"/><rect x="509.5" y="229.0" width="5" height="4"/><rect x="509.5" y="236.0" width="5" height="4"/><rect x="509.5" y="243.0" width="5" height="4"/><rect x="509.5" y="250.0" width="5" height="4"/><rect x="509.5" y="257.0" width="5" height="4"/><rect x="518.0" y="96.0" width="5" height="4"/><rect x="518.0" y="103.0" width="5" height="4"/><rect x="518.0" y="110.0" width="5" height="4"/><rect x="518.0" y="117.0" width="5" height="4"/><rect x="518.0" y="124.0" width="5" height="4"/><rect x="518.0" y="131.0" width="5" height="4"/><rect x="518.0" y="138.0" width="5" height="4"/><rect x="518.0" y="145.0" width="5" height="4"/><rect x="518.0" y="152.0" width="5" height="4"/><rect x="518.0" y="159.0" width="5" height="4"/><rect x="518.0" y="166.0" width="5" height="4"/><rect x="518.0" y="173.0" width="5" height="4"/><rect x="518.0" y="180.0" width="5" height="4"/><rect x="518.0" y="187.0" width="5" height="4"/><rect x="518.0" y="194.0" width="5" height="4"/><rect x="518.0" y="201.0" width="5" height="4"/><rect x="518.0" y="208.0" width="5" height="4"/><rect x="518.0" y="215.0" width="5" height="4"/><rect x="518.0" y="222.0" width="5" height="4"/><rect x="518.0" y="229.0" width="5" height="4"/><rect x="518.0" y="236.0" width="5" height="4"/><rect x="518.0" y="243.0" width="5" height="4"/><rect x="518.0" y="250.0" width="5" height="4"/><rect x="518.0" y="257.0" width="5" height="4"/><rect x="526.5" y="96.0" width="5" height="4"/><rect x="526.5" y="103.0" width="5" height="4"/><rect x="526.5" y="110.0" width="5" height="4"/><rect x="526.5" y="117.0" width="5" height="4"/><rect x="526.5" y="124.0" width="5" height="4"/><rect x="526.5" y="131.0" width="5" height="4"/><rect x="526.5" y="138.0" width="5" height="4"/><rect x="526.5" y="145.0" width="5" height="4"/><rect x="526.5" y="152.0" width="5" height="4"/><rect x="526.5" y="159.0" width="5" height="4"/><rect x="526.5" y="166.0" width="5" height="4"/><rect x="526.5" y="173.0" width="5" height="4"/><rect x="526.5" y="180.0" width="5" height="4"/><rect x="526.5" y="187.0" width="5" height="4"/><rect x="526.5" y="194.0" width="5" height="4"/><rect x="526.5" y="201.0" width="5" height="4"/><rect x="526.5" y="208.0" width="5" height="4"/><rect x="526.5" y="215.0" width="5" height="4"/><rect x="526.5" y="222.0" width="5" height="4"/><rect x="526.5" y="229.0" width="5" height="4"/><rect x="526.5" y="236.0" width="5" height="4"/><rect x="526.5" y="243.0" width="5" height="4"/><rect x="526.5" y="250.0" width="5" height="4"/><rect x="526.5" y="257.0" width="5" height="4"/><rect x="535.0" y="96.0" width="5" height="4"/><rect x="535.0" y="103.0" width="5" height="4"/><rect x="535.0" y="110.0" width="5" height="4"/><rect x="535.0" y="117.0" width="5" height="4"/><rect x="535.0" y="124.0" width="5" height="4"/><rect x="535.0" y="131.0" width="5" height="4"/><rect x="535.0" y="138.0" width="5" height="4"/><rect x="535.0" y="145.0" width="5" height="4"/><rect x="535.0" y="152.0" width="5" height="4"/><rect x="535.0" y="159.0" width="5" height="4"/><rect x="535.0" y="166.0" width="5" height="4"/><rect x="535.0" y="173.0" width="5" height="4"/><rect x="535.0" y="180.0" width="5" height="4"/><rect x="535.0" y="187.0" width="5" height="4"/><rect x="535.0" y="194.0" width="5" height="4"/><rect x="535.0" y="201.0" width="5" height="4"/><rect x="535.0" y="208.0" width="5" height="4"/><rect x="535.0" y="215.0" width="5" height="4"/><rect x="535.0" y="222.0" width="5" height="4"/><rect x="535.0" y="229.0" width="5" height="4"/><rect x="535.0" y="236.0" width="5" height="4"/><rect x="535.0" y="243.0" width="5" height="4"/><rect x="535.0" y="250.0" width="5" height="4"/><rect x="535.0" y="257.0" width="5" height="4"/><rect x="543.5" y="96.0" width="5" height="4"/><rect x="543.5" y="103.0" width="5" height="4"/><rect x="543.5" y="110.0" width="5" height="4"/><rect x="543.5" y="117.0" width="5" height="4"/><rect x="543.5" y="124.0" width="5" height="4"/><rect x="543.5" y="131.0" width="5" height="4"/><rect x="543.5" y="138.0" width="5" height="4"/><rect x="543.5" y="145.0" width="5" height="4"/><rect x="543.5" y="152.0" width="5" height="4"/><rect x="543.5" y="159.0" width="5" height="4"/><rect x="543.5" y="166.0" width="5" height="4"/><rect x="543.5" y="173.0" width="5" height="4"/><rect x="543.5" y="180.0" width="5" height="4"/><rect x="543.5" y="187.0" width="5" height="4"/><rect x="543.5" y="194.0" width="5" height="4"/><rect x="543.5" y="201.0" width="5" height="4"/><rect x="543.5" y="208.0" width="5" height="4"/><rect x="543.5" y="215.0" width="5" height="4"/><rect x="543.5" y="222.0" width="5" height="4"/><rect x="543.5" y="229.0" width="5" height="4"/><rect x="543.5" y="236.0" width="5" height="4"/><rect x="543.5" y="243.0" width="5" height="4"/><rect x="543.5" y="250.0" width="5" height="4"/><rect x="543.5" y="257.0" width="5" height="4"/><rect x="576.0" y="112.0" width="3" height="3"/><rect x="576.0" y="119.0" width="3" height="3"/><rect x="576.0" y="126.0" width="3" height="3"/><rect x="576.0" y="133.0" width="3" height="3"/><rect x="576.0" y="140.0" width="3" height="3"/><rect x="576.0" y="147.0" width="3" height="3"/><rect x="576.0" y="154.0" width="3" height="3"/><rect x="576.0" y="161.0" width="3" height="3"/><rect x="576.0" y="168.0" width="3" height="3"/><rect x="576.0" y="175.0" width="3" height="3"/><rect x="576.0" y="182.0" width="3" height="3"/><rect x="576.0" y="189.0" width="3" height="3"/><rect x="576.0" y="196.0" width="3" height="3"/><rect x="576.0" y="203.0" width="3" height="3"/><rect x="576.0" y="210.0" width="3" height="3"/><rect x="576.0" y="217.0" width="3" height="3"/><rect x="576.0" y="224.0" width="3" height="3"/><rect x="576.0" y="231.0" width="3" height="3"/><rect x="576.0" y="238.0" width="3" height="3"/><rect x="576.0" y="245.0" width="3" height="3"/><rect x="576.0" y="252.0" width="3" height="3"/><rect x="576.0" y="259.0" width="3" height="3"/><rect x="576.0" y="266.0" width="3" height="3"/><rect x="576.0" y="273.0" width="3" height="3"/><rect x="576.0" y="280.0" width="3" height="3"/><rect x="576.0" y="287.0" width="3" height="3"/><rect x="576.0" y="294.0" width="3" height="3"/><rect x="576.0" y="301.0" width="3" height="3"/><rect x="576.0" y="308.0" width="3" height="3"/><rect x="576.0" y="315.0" width="3" height="3"/><rect x="576.0" y="322.0" width="3" height="3"/><rect x="581.5" y="112.0" width="3" height="3"/><rect x="581.5" y="119.0" width="3" height="3"/><rect x="581.5" y="126.0" width="3" height="3"/><rect x="581.5" y="133.0" width="3" height="3"/><rect x="581.5" y="140.0" width="3" height="3"/><rect x="581.5" y="147.0" width="3" height="3"/><rect x="581.5" y="154.0" width="3" height="3"/><rect x="581.5" y="161.0" width="3" height="3"/><rect x="581.5" y="168.0" width="3" height="3"/><rect x="581.5" y="175.0" width="3" height="3"/><rect x="581.5" y="182.0" width="3" height="3"/><rect x="581.5" y="189.0" width="3" height="3"/><rect x="581.5" y="196.0" width="3" height="3"/><rect x="581.5" y="203.0" width="3" height="3"/><rect x="581.5" y="210.0" width="3" height="3"/><rect x="581.5" y="217.0" width="3" height="3"/><rect x="581.5" y="224.0" width="3" height="3"/><rect x="581.5" y="231.0" width="3" height="3"/><rect x="581.5" y="238.0" width="3" height="3"/><rect x="581.5" y="245.0" width="3" height="3"/><rect x="581.5" y="252.0" width="3" height="3"/><rect x="581.5" y="259.0" width="3" height="3"/><rect x="581.5" y="266.0" width="3" height="3"/><rect x="581.5" y="273.0" width="3" height="3"/><rect x="581.5" y="280.0" width="3" height="3"/><rect x="581.5" y="287.0" width="3" height="3"/><rect x="581.5" y="294.0" width="3" height="3"/><rect x="581.5" y="301.0" width="3" height="3"/><rect x="581.5" y="308.0" width="3" height="3"/><rect x="581.5" y="315.0" width="3" height="3"/><rect x="581.5" y="322.0" width="3" height="3"/><rect x="587.0" y="112.0" width="3" height="3"/><rect x="587.0" y="119.0" width="3" height="3"/><rect x="587.0" y="126.0" width="3" height="3"/><rect x="587.0" y="133.0" width="3" height="3"/><rect x="587.0" y="140.0" width="3" height="3"/><rect x="587.0" y="147.0" width="3" height="3"/><rect x="587.0" y="154.0" width="3" height="3"/><rect x="587.0" y="161.0" width="3" height="3"/><rect x="587.0" y="168.0" width="3" height="3"/><rect x="587.0" y="175.0" width="3" height="3"/><rect x="587.0" y="182.0" width="3" height="3"/><rect x="587.0" y="189.0" width="3" height="3"/><rect x="587.0" y="196.0" width="3" height="3"/><rect x="587.0" y="203.0" width="3" height="3"/><rect x="587.0" y="210.0" width="3" height="3"/><rect x="587.0" y="217.0" width="3" height="3"/><rect x="587.0" y="224.0" width="3" height="3"/><rect x="587.0" y="231.0" width="3" height="3"/><rect x="587.0" y="238.0" width="3" height="3"/><rect x="587.0" y="245.0" width="3" height="3"/><rect x="587.0" y="252.0" width="3" height="3"/><rect x="587.0" y="259.0" width="3" height="3"/><rect x="587.0" y="266.0" width="3" height="3"/><rect x="587.0" y="273.0" width="3" height="3"/><rect x="587.0" y="280.0" width="3" height="3"/><rect x="587.0" y="287.0" width="3" height="3"/><rect x="587.0" y="294.0" width="3" height="3"/><rect x="587.0" y="301.0" width="3" height="3"/><rect x="587.0" y="308.0" width="3" height="3"/><rect x="587.0" y="315.0" width="3" height="3"/><rect x="587.0" y="322.0" width="3" height="3"/><rect x="592.5" y="112.0" width="3" height="3"/><rect x="592.5" y="119.0" width="3" height="3"/><rect x="592.5" y="126.0" width="3" height="3"/><rect x="592.5" y="133.0" width="3" height="3"/><rect x="592.5" y="140.0" width="3" height="3"/><rect x="592.5" y="147.0" width="3" height="3"/><rect x="592.5" y="154.0" width="3" height="3"/><rect x="592.5" y="161.0" width="3" height="3"/><rect x="592.5" y="168.0" width="3" height="3"/><rect x="592.5" y="175.0" width="3" height="3"/><rect x="592.5" y="182.0" width="3" height="3"/><rect x="592.5" y="189.0" width="3" height="3"/><rect x="592.5" y="196.0" width="3" height="3"/><rect x="592.5" y="203.0" width="3" height="3"/><rect x="592.5" y="210.0" width="3" height="3"/><rect x="592.5" y="217.0" width="3" height="3"/><rect x="592.5" y="224.0" width="3" height="3"/><rect x="592.5" y="231.0" width="3" height="3"/><rect x="592.5" y="238.0" width="3" height="3"/><rect x="592.5" y="245.0" width="3" height="3"/><rect x="592.5" y="252.0" width="3" height="3"/><rect x="592.5" y="259.0" width="3" height="3"/><rect x="592.5" y="266.0" width="3" height="3"/><rect x="592.5" y="273.0" width="3" height="3"/><rect x="592.5" y="280.0" width="3" height="3"/><rect x="592.5" y="287.0" width="3" height="3"/><rect x="592.5" y="294.0" width="3" height="3"/><rect x="592.5" y="301.0" width="3" height="3"/><rect x="592.5" y="308.0" width="3" height="3"/><rect x="592.5" y="315.0" width="3" height="3"/><rect x="592.5" y="322.0" width="3" height="3"/><rect x="598.0" y="112.0" width="3" height="3"/><rect x="598.0" y="119.0" width="3" height="3"/><rect x="598.0" y="126.0" width="3" height="3"/><rect x="598.0" y="133.0" width="3" height="3"/><rect x="598.0" y="140.0" width="3" height="3"/><rect x="598.0" y="147.0" width="3" height="3"/><rect x="598.0" y="154.0" width="3" height="3"/><rect x="598.0" y="161.0" width="3" height="3"/><rect x="598.0" y="168.0" width="3" height="3"/><rect x="598.0" y="175.0" width="3" height="3"/><rect x="598.0" y="182.0" width="3" height="3"/><rect x="598.0" y="189.0" width="3" height="3"/><rect x="598.0" y="196.0" width="3" height="3"/><rect x="598.0" y="203.0" width="3" height="3"/><rect x="598.0" y="210.0" width="3" height="3"/><rect x="598.0" y="217.0" width="3" height="3"/><rect x="598.0" y="224.0" width="3" height="3"/><rect x="598.0" y="231.0" width="3" height="3"/><rect x="598.0" y="238.0" width="3" height="3"/><rect x="598.0" y="245.0" width="3" height="3"/><rect x="598.0" y="252.0" width="3" height="3"/><rect x="598.0" y="259.0" width="3" height="3"/><rect x="598.0" y="266.0" width="3" height="3"/><rect x="598.0" y="273.0" width="3" height="3"/><rect x="598.0" y="280.0" width="3" height="3"/><rect x="598.0" y="287.0" width="3" height="3"/><rect x="598.0" y="294.0" width="3" height="3"/><rect x="598.0" y="301.0" width="3" height="3"/><rect x="598.0" y="308.0" width="3" height="3"/><rect x="598.0" y="315.0" width="3" height="3"/><rect x="598.0" y="322.0" width="3" height="3"/><rect x="603.5" y="112.0" width="3" height="3"/><rect x="603.5" y="119.0" width="3" height="3"/><rect x="603.5" y="126.0" width="3" height="3"/><rect x="603.5" y="133.0" width="3" height="3"/><rect x="603.5" y="140.0" width="3" height="3"/><rect x="603.5" y="147.0" width="3" height="3"/><rect x="603.5" y="154.0" width="3" height="3"/><rect x="603.5" y="161.0" width="3" height="3"/><rect x="603.5" y="168.0" width="3" height="3"/><rect x="603.5" y="175.0" width="3" height="3"/><rect x="603.5" y="182.0" width="3" height="3"/><rect x="603.5" y="189.0" width="3" height="3"/><rect x="603.5" y="196.0" width="3" height="3"/><rect x="603.5" y="203.0" width="3" height="3"/><rect x="603.5" y="210.0" width="3" height="3"/><rect x="603.5" y="217.0" width="3" height="3"/><rect x="603.5" y="224.0" width="3" height="3"/><rect x="603.5" y="231.0" width="3" height="3"/><rect x="603.5" y="238.0" width="3" height="3"/><rect x="603.5" y="245.0" width="3" height="3"/><rect x="603.5" y="252.0" width="3" height="3"/><rect x="603.5" y="259.0" width="3" height="3"/><rect x="603.5" y="266.0" width="3" height="3"/><rect x="603.5" y="273.0" width="3" height="3"/><rect x="603.5" y="280.0" width="3" height="3"/><rect x="603.5" y="287.0" width="3" height="3"/><rect x="603.5" y="294.0" width="3" height="3"/><rect x="603.5" y="301.0" width="3" height="3"/><rect x="603.5" y="308.0" width="3" height="3"/><rect x="603.5" y="315.0" width="3" height="3"/><rect x="603.5" y="322.0" width="3" height="3"/><rect x="609.0" y="112.0" width="3" height="3"/><rect x="609.0" y="119.0" width="3" height="3"/><rect x="609.0" y="126.0" width="3" height="3"/><rect x="609.0" y="133.0" width="3" height="3"/><rect x="609.0" y="140.0" width="3" height="3"/><rect x="609.0" y="147.0" width="3" height="3"/><rect x="609.0" y="154.0" width="3" height="3"/><rect x="609.0" y="161.0" width="3" height="3"/><rect x="609.0" y="168.0" width="3" height="3"/><rect x="609.0" y="175.0" width="3" height="3"/><rect x="609.0" y="182.0" width="3" height="3"/><rect x="609.0" y="189.0" width="3" height="3"/><rect x="609.0" y="196.0" width="3" height="3"/><rect x="609.0" y="203.0" width="3" height="3"/><rect x="609.0" y="210.0" width="3" height="3"/><rect x="609.0" y="217.0" width="3" height="3"/><rect x="609.0" y="224.0" width="3" height="3"/><rect x="609.0" y="231.0" width="3" height="3"/><rect x="609.0" y="238.0" width="3" height="3"/><rect x="609.0" y="245.0" width="3" height="3"/><rect x="609.0" y="252.0" width="3" height="3"/><rect x="609.0" y="259.0" width="3" height="3"/><rect x="609.0" y="266.0" width="3" height="3"/><rect x="609.0" y="273.0" width="3" height="3"/><rect x="609.0" y="280.0" width="3" height="3"/><rect x="609.0" y="287.0" width="3" height="3"/><rect x="609.0" y="294.0" width="3" height="3"/><rect x="609.0" y="301.0" width="3" height="3"/><rect x="609.0" y="308.0" width="3" height="3"/><rect x="609.0" y="315.0" width="3" height="3"/><rect x="609.0" y="322.0" width="3" height="3"/><rect x="614.5" y="112.0" width="3" height="3"/><rect x="614.5" y="119.0" width="3" height="3"/><rect x="614.5" y="126.0" width="3" height="3"/><rect x="614.5" y="133.0" width="3" height="3"/><rect x="614.5" y="140.0" width="3" height="3"/><rect x="614.5" y="147.0" width="3" height="3"/><rect x="614.5" y="154.0" width="3" height="3"/><rect x="614.5" y="161.0" width="3" height="3"/><rect x="614.5" y="168.0" width="3" height="3"/><rect x="614.5" y="175.0" width="3" height="3"/><rect x="614.5" y="182.0" width="3" height="3"/><rect x="614.5" y="189.0" width="3" height="3"/><rect x="614.5" y="196.0" width="3" height="3"/><rect x="614.5" y="203.0" width="3" height="3"/><rect x="614.5" y="210.0" width="3" height="3"/><rect x="614.5" y="217.0" width="3" height="3"/><rect x="614.5" y="224.0" width="3" height="3"/><rect x="614.5" y="231.0" width="3" height="3"/><rect x="614.5" y="238.0" width="3" height="3"/><rect x="614.5" y="245.0" width="3" height="3"/><rect x="614.5" y="252.0" width="3" height="3"/><rect x="614.5" y="259.0" width="3" height="3"/><rect x="614.5" y="266.0" width="3" height="3"/><rect x="614.5" y="273.0" width="3" height="3"/><rect x="614.5" y="280.0" width="3" height="3"/><rect x="614.5" y="287.0" width="3" height="3"/><rect x="614.5" y="294.0" width="3" height="3"/><rect x="614.5" y="301.0" width="3" height="3"/><rect x="614.5" y="308.0" width="3" height="3"/><rect x="614.5" y="315.0" width="3" height="3"/><rect x="614.5" y="322.0" width="3" height="3"/><rect x="724.0" y="188.0" width="7.5" height="7.5"/><rect x="724.0" y="202.0" width="7.5" height="7.5"/><rect x="724.0" y="216.0" width="7.5" height="7.5"/><rect x="724.0" y="230.0" width="7.5" height="7.5"/><rect x="724.0" y="244.0" width="7.5" height="7.5"/><rect x="724.0" y="258.0" width="7.5" height="7.5"/><rect x="738.0" y="188.0" width="7.5" height="7.5"/><rect x="738.0" y="202.0" width="7.5" height="7.5"/><rect x="738.0" y="216.0" width="7.5" height="7.5"/><rect x="738.0" y="230.0" width="7.5" height="7.5"/><rect x="738.0" y="244.0" width="7.5" height="7.5"/><rect x="738.0" y="258.0" width="7.5" height="7.5"/><rect x="752.0" y="188.0" width="7.5" height="7.5"/><rect x="752.0" y="202.0" width="7.5" height="7.5"/><rect x="752.0" y="216.0" width="7.5" height="7.5"/><rect x="752.0" y="230.0" width="7.5" height="7.5"/><rect x="752.0" y="244.0" width="7.5" height="7.5"/><rect x="752.0" y="258.0" width="7.5" height="7.5"/><rect x="766.0" y="188.0" width="7.5" height="7.5"/><rect x="766.0" y="202.0" width="7.5" height="7.5"/><rect x="766.0" y="216.0" width="7.5" height="7.5"/><rect x="766.0" y="230.0" width="7.5" height="7.5"/><rect x="766.0" y="244.0" width="7.5" height="7.5"/><rect x="766.0" y="258.0" width="7.5" height="7.5"/><rect x="622.0" y="213.0" width="20" height="4"/><rect x="622.0" y="221.0" width="20" height="4"/><rect x="622.0" y="229.0" width="20" height="4"/><rect x="622.0" y="237.0" width="20" height="4"/><rect x="622.0" y="245.0" width="20" height="4"/><rect x="622.0" y="253.0" width="20" height="4"/><rect x="622.0" y="261.0" width="20" height="4"/><rect x="622.0" y="269.0" width="20" height="4"/><rect x="622.0" y="277.0" width="20" height="4"/><rect x="622.0" y="285.0" width="20" height="4"/><rect x="622.0" y="293.0" width="20" height="4"/><rect x="622.0" y="301.0" width="20" height="4"/><rect x="622.0" y="309.0" width="20" height="4"/><rect x="622.0" y="317.0" width="20" height="4"/><rect x="645.0" y="213.0" width="20" height="4"/><rect x="645.0" y="221.0" width="20" height="4"/><rect x="645.0" y="229.0" width="20" height="4"/><rect x="645.0" y="237.0" width="20" height="4"/><rect x="645.0" y="245.0" width="20" height="4"/><rect x="645.0" y="253.0" width="20" height="4"/><rect x="645.0" y="261.0" width="20" height="4"/><rect x="645.0" y="269.0" width="20" height="4"/><rect x="645.0" y="277.0" width="20" height="4"/><rect x="645.0" y="285.0" width="20" height="4"/><rect x="645.0" y="293.0" width="20" height="4"/><rect x="645.0" y="301.0" width="20" height="4"/><rect x="645.0" y="309.0" width="20" height="4"/><rect x="645.0" y="317.0" width="20" height="4"/><rect x="772.0" y="195.0" width="6" height="5"/><rect x="772.0" y="206.0" width="6" height="5"/><rect x="772.0" y="217.0" width="6" height="5"/><rect x="772.0" y="228.0" width="6" height="5"/><rect x="772.0" y="239.0" width="6" height="5"/><rect x="772.0" y="250.0" width="6" height="5"/><rect x="772.0" y="261.0" width="6" height="5"/><rect x="782.0" y="195.0" width="6" height="5"/><rect x="782.0" y="206.0" width="6" height="5"/><rect x="782.0" y="217.0" width="6" height="5"/><rect x="782.0" y="228.0" width="6" height="5"/><rect x="782.0" y="239.0" width="6" height="5"/><rect x="782.0" y="250.0" width="6" height="5"/><rect x="782.0" y="261.0" width="6" height="5"/><rect x="792.0" y="195.0" width="6" height="5"/><rect x="792.0" y="206.0" width="6" height="5"/><rect x="792.0" y="217.0" width="6" height="5"/><rect x="792.0" y="228.0" width="6" height="5"/><rect x="792.0" y="239.0" width="6" height="5"/><rect x="792.0" y="250.0" width="6" height="5"/><rect x="792.0" y="261.0" width="6" height="5"/><rect x="872.0" y="243.0" width="54" height="3.5"/><rect x="872.0" y="250.6" width="54" height="3.5"/><rect x="872.0" y="258.2" width="54" height="3.5"/><rect x="872.0" y="265.8" width="54" height="3.5"/><rect x="872.0" y="273.4" width="54" height="3.5"/><rect x="872.0" y="281.0" width="54" height="3.5"/><rect x="872.0" y="288.6" width="54" height="3.5"/><rect x="872.0" y="296.2" width="54" height="3.5"/><rect x="872.0" y="303.8" width="54" height="3.5"/><rect x="872.0" y="311.4" width="54" height="3.5"/><rect x="872.0" y="319.0" width="54" height="3.5"/><rect x="872.0" y="326.6" width="54" height="3.5"/><rect x="872.0" y="334.2" width="54" height="3.5"/><rect x="872.0" y="341.8" width="54" height="3.5"/><rect x="872.0" y="349.4" width="54" height="3.5"/><rect x="872.0" y="357.0" width="54" height="3.5"/><rect x="872.0" y="364.6" width="54" height="3.5"/><rect x="290.0" y="180.0" width="5" height="6"/><rect x="290.0" y="191.0" width="5" height="6"/><rect x="290.0" y="202.0" width="5" height="6"/><rect x="290.0" y="213.0" width="5" height="6"/><rect x="290.0" y="224.0" width="5" height="6"/><rect x="290.0" y="235.0" width="5" height="6"/><rect x="290.0" y="246.0" width="5" height="6"/><rect x="290.0" y="257.0" width="5" height="6"/><rect x="299.0" y="180.0" width="5" height="6"/><rect x="299.0" y="191.0" width="5" height="6"/><rect x="299.0" y="202.0" width="5" height="6"/><rect x="299.0" y="213.0" width="5" height="6"/><rect x="299.0" y="224.0" width="5" height="6"/><rect x="299.0" y="235.0" width="5" height="6"/><rect x="299.0" y="246.0" width="5" height="6"/><rect x="299.0" y="257.0" width="5" height="6"/><rect x="308.0" y="180.0" width="5" height="6"/><rect x="308.0" y="191.0" width="5" height="6"/><rect x="308.0" y="202.0" width="5" height="6"/><rect x="308.0" y="213.0" width="5" height="6"/><rect x="308.0" y="224.0" width="5" height="6"/><rect x="308.0" y="235.0" width="5" height="6"/><rect x="308.0" y="246.0" width="5" height="6"/><rect x="308.0" y="257.0" width="5" height="6"/><rect x="430.0" y="212.0" width="6" height="6"/><rect x="430.0" y="223.0" width="6" height="6"/><rect x="430.0" y="234.0" width="6" height="6"/><rect x="430.0" y="245.0" width="6" height="6"/><rect x="430.0" y="256.0" width="6" height="6"/><rect x="430.0" y="267.0" width="6" height="6"/><rect x="430.0" y="278.0" width="6" height="6"/><rect x="440.0" y="212.0" width="6" height="6"/><rect x="440.0" y="223.0" width="6" height="6"/><rect x="440.0" y="234.0" width="6" height="6"/><rect x="440.0" y="245.0" width="6" height="6"/><rect x="440.0" y="256.0" width="6" height="6"/><rect x="440.0" y="267.0" width="6" height="6"/><rect x="440.0" y="278.0" width="6" height="6"/><rect x="450.0" y="212.0" width="6" height="6"/><rect x="450.0" y="223.0" width="6" height="6"/><rect x="450.0" y="234.0" width="6" height="6"/><rect x="450.0" y="245.0" width="6" height="6"/><rect x="450.0" y="256.0" width="6" height="6"/><rect x="450.0" y="267.0" width="6" height="6"/><rect x="450.0" y="278.0" width="6" height="6"/><rect x="460.0" y="212.0" width="6" height="6"/><rect x="460.0" y="223.0" width="6" height="6"/><rect x="460.0" y="234.0" width="6" height="6"/><rect x="460.0" y="245.0" width="6" height="6"/><rect x="460.0" y="256.0" width="6" height="6"/><rect x="460.0" y="267.0" width="6" height="6"/><rect x="460.0" y="278.0" width="6" height="6"/><rect x="116.0" y="259.0" width="44" height="4"/><rect x="116.0" y="266.5" width="44" height="4"/><rect x="116.0" y="274.0" width="44" height="4"/><rect x="116.0" y="281.5" width="44" height="4"/><rect x="116.0" y="289.0" width="44" height="4"/><rect x="116.0" y="296.5" width="44" height="4"/><rect x="116.0" y="304.0" width="44" height="4"/><rect x="168.0" y="256.0" width="6" height="6"/><rect x="168.0" y="266.0" width="6" height="6"/><rect x="168.0" y="276.0" width="6" height="6"/><rect x="168.0" y="286.0" width="6" height="6"/><rect x="168.0" y="296.0" width="6" height="6"/><rect x="177.0" y="256.0" width="6" height="6"/><rect x="177.0" y="266.0" width="6" height="6"/><rect x="177.0" y="276.0" width="6" height="6"/><rect x="177.0" y="286.0" width="6" height="6"/><rect x="177.0" y="296.0" width="6" height="6"/><rect x="186.0" y="256.0" width="6" height="6"/><rect x="186.0" y="266.0" width="6" height="6"/><rect x="186.0" y="276.0" width="6" height="6"/><rect x="186.0" y="286.0" width="6" height="6"/><rect x="186.0" y="296.0" width="6" height="6"/><rect x="216.0" y="242.0" width="40" height="4"/><rect x="216.0" y="249.5" width="40" height="4"/><rect x="216.0" y="257.0" width="40" height="4"/><rect x="216.0" y="264.5" width="40" height="4"/><rect x="216.0" y="272.0" width="40" height="4"/><rect x="216.0" y="279.5" width="40" height="4"/><rect x="216.0" y="287.0" width="40" height="4"/><rect x="216.0" y="294.5" width="40" height="4"/><rect x="694.0" y="273.0" width="21" height="2.5"/><rect x="694.0" y="277.5" width="21" height="2.5"/><rect x="694.0" y="282.0" width="21" height="2.5"/><rect x="694.0" y="286.5" width="21" height="2.5"/><rect x="694.0" y="291.0" width="21" height="2.5"/><rect x="694.0" y="295.5" width="21" height="2.5"/><rect x="694.0" y="300.0" width="21" height="2.5"/><rect x="720.0" y="285.0" width="5" height="3"/><rect x="720.0" y="292.0" width="5" height="3"/><rect x="720.0" y="299.0" width="5" height="3"/><rect x="720.0" y="306.0" width="5" height="3"/><rect x="720.0" y="313.0" width="5" height="3"/><rect x="720.0" y="320.0" width="5" height="3"/><rect x="729.0" y="285.0" width="5" height="3"/><rect x="729.0" y="292.0" width="5" height="3"/><rect x="729.0" y="299.0" width="5" height="3"/><rect x="729.0" y="306.0" width="5" height="3"/><rect x="729.0" y="313.0" width="5" height="3"/><rect x="729.0" y="320.0" width="5" height="3"/><rect x="738.0" y="285.0" width="5" height="3"/><rect x="738.0" y="292.0" width="5" height="3"/><rect x="738.0" y="299.0" width="5" height="3"/><rect x="738.0" y="306.0" width="5" height="3"/><rect x="738.0" y="313.0" width="5" height="3"/><rect x="738.0" y="320.0" width="5" height="3"/><rect x="772.0" y="276.0" width="23" height="2.5"/><rect x="772.0" y="281.0" width="23" height="2.5"/><rect x="772.0" y="286.0" width="23" height="2.5"/><rect x="772.0" y="291.0" width="23" height="2.5"/><rect x="772.0" y="296.0" width="23" height="2.5"/><rect x="772.0" y="301.0" width="23" height="2.5"/><rect x="772.0" y="306.0" width="23" height="2.5"/><rect x="772.0" y="311.0" width="23" height="2.5"/><rect x="772.0" y="316.0" width="23" height="2.5"/><rect x="812.0" y="276.0" width="4.5" height="4.5"/><rect x="812.0" y="283.5" width="4.5" height="4.5"/><rect x="812.0" y="291.0" width="4.5" height="4.5"/><rect x="812.0" y="298.5" width="4.5" height="4.5"/><rect x="812.0" y="306.0" width="4.5" height="4.5"/><rect x="812.0" y="313.5" width="4.5" height="4.5"/><rect x="812.0" y="321.0" width="4.5" height="4.5"/><rect x="819.5" y="276.0" width="4.5" height="4.5"/><rect x="819.5" y="283.5" width="4.5" height="4.5"/><rect x="819.5" y="291.0" width="4.5" height="4.5"/><rect x="819.5" y="298.5" width="4.5" height="4.5"/><rect x="819.5" y="306.0" width="4.5" height="4.5"/><rect x="819.5" y="313.5" width="4.5" height="4.5"/><rect x="819.5" y="321.0" width="4.5" height="4.5"/><rect x="827.0" y="276.0" width="4.5" height="4.5"/><rect x="827.0" y="283.5" width="4.5" height="4.5"/><rect x="827.0" y="291.0" width="4.5" height="4.5"/><rect x="827.0" y="298.5" width="4.5" height="4.5"/><rect x="827.0" y="306.0" width="4.5" height="4.5"/><rect x="827.0" y="313.5" width="4.5" height="4.5"/><rect x="827.0" y="321.0" width="4.5" height="4.5"/><rect x="834.5" y="276.0" width="4.5" height="4.5"/><rect x="834.5" y="283.5" width="4.5" height="4.5"/><rect x="834.5" y="291.0" width="4.5" height="4.5"/><rect x="834.5" y="298.5" width="4.5" height="4.5"/><rect x="834.5" y="306.0" width="4.5" height="4.5"/><rect x="834.5" y="313.5" width="4.5" height="4.5"/><rect x="834.5" y="321.0" width="4.5" height="4.5"/></g></g>
<path d="M158,183.5 H78.5 V433.5 H319 V183.5 H233" fill="none" stroke="#5fc46b" stroke-width="1.3"/>
<path d="M608.5,183.5 H325.5 V433.5 H983 V183.5 H694" fill="none" stroke="#3a80c6" stroke-width="1.3"/>
<path d="M473.5,452 H77.5 V682 H981.5 V452 H578.5" fill="none" stroke="#f7b660" stroke-width="1.3"/>
<polygon fill="#0d9a3d" points="138.7,236 138.7,263 134.5,263 143.15,274.5 151.8,263 147,263 147,236"/>
<polygon fill="#0d9a3d" points="139.3,342.8 139.3,370 134.6,370 143.3,382.5 152,370 147.2,370 147.2,342.8"/>
<polygon fill="#0d9a3d" points="171,399 285.7,399 285.7,355 281,355 289.8,343 298.6,355 294.5,355 294.5,407.3 171,407.3"/>
<polygon fill="#0d9a3d" points="286.4,316.4 286.4,289 281.8,289 290.4,277.3 299,289 294.6,289 294.6,316.4"/>
<polygon fill="#0b66b6" points="327,264.4 354,264.4 354,259.3 364.6,268.15 354,277 354,273.6 327,273.6"/>
<polygon fill="#0b66b6" points="413.5,264.4 441.6,264.4 441.6,259.3 452.8,268.15 441.6,277 441.6,273.6 413.5,273.6"/>
<polygon fill="#0b66b6" points="538.5,264.4 566,264.4 566,259.3 577,268.15 566,277 566,273.6 538.5,273.6"/>
<polygon fill="#0b66b6" points="650,264.4 676.6,264.4 676.6,259.3 687.8,268.15 676.6,277 676.6,273.6 650,273.6"/>
<polygon fill="#0b66b6" points="736,264.4 763.7,264.4 763.7,259.3 774.5,268.15 763.7,277 763.7,273.6 736,273.6"/>
<polygon fill="#0b66b6" points="850.4,264.4 878,264.4 878,259.3 888.9,268.15 878,277 878,273.6 850.4,273.6"/>
<polygon fill="#0b66b6" points="914.4,281 914.4,334 909.4,334 919.15,346.7 928.9,334 924.7,334 924.7,281"/>
<polygon fill="#0b66b6" points="889.4,361.5 862,361.5 862,356.4 850.5,365.7 862,375 862,370 889.4,370"/>
<polygon fill="#0b66b6" points="735.8,361.4 708,361.4 708,357 696,366.0 708,375 708,370.3 735.8,370.3"/>
<polygon fill="#0b66b6" points="605,361.7 426,361.7 426,356 414,365.5 426,375 426,370 605,370"/>
<polygon fill="#0b66b6" points="382.7,319.3 382.7,301.7 378,301.7 387.0,287.3 396,301.7 391.7,301.7 391.7,319.3"/>
<polygon fill="#0b66b6" points="469,288.3 478,288.3 478,446 147.3,446 147.3,460 151.7,460 143.3,471.7 135,460 139,460 139,437.2 469,437.2"/>
<polygon fill="#f39a0d" points="188.3,489 241.7,489 241.7,483.3 254,493.0 241.7,502.7 241.7,497.7 188.3,497.7"/>
<polygon fill="#f39a0d" points="383,488.7 568.7,488.7 568.7,539.2 244,539.2 244,586.7 247.8,586.7 239,598.4 230.3,586.7 234.2,586.7 234.2,530.3 559,530.3 559,498 383,498"/>
<polygon fill="#f39a0d" points="305.4,599.5 424.8,599.5 424.8,594.5 437.6,603.25 424.8,612 424.8,608 305.4,608"/>
<polygon fill="#f39a0d" points="558,605.3 669,605.3 669,305 663.3,305 672,293.3 680.7,305 676.6,305 676.6,613.2 558,613.2"/>
<polygon fill="#f39a0d" points="676,487.9 710.6,487.9 710.6,483.5 721.6,492.0 710.6,500.5 710.6,496.7 676,496.7"/>
<polygon fill="#f39a0d" points="779.8,493.5 808.2,493.5 808.2,487.2 820.8,497.45 808.2,507.7 808.2,502.3 779.8,502.3"/>
<rect x="835.9" y="504.5" width="9.399999999999977" height="18.5" fill="#f39a0d" />
<rect x="719" y="522.3" width="232.10000000000002" height="9.0" fill="#f39a0d" />
<polygon fill="#f39a0d" points="719,522.3 719,580 714.4,580 723.3,591.7 732.2,580 727.5,580 727.5,522.3"/>
<polygon fill="#f39a0d" points="835.8,522.3 835.8,575.6 830.3,575.6 840.4,592.2 850.5,575.6 845.6,575.6 845.6,522.3"/>
<polygon fill="#f39a0d" points="941.4,522.3 941.4,579 935,579 945.5,592.2 956,579 951.1,579 951.1,522.3"/>
<path d="M516,361 V302 H594 V361" fill="none" stroke="#3a88d0" stroke-width="1.1" stroke-dasharray="1.4 2.6"/>
<g transform="translate(118.5,190.7)">
 <rect x="0" y="0" width="49.6" height="29.3" fill="#5a7a90"/>
 <polygon points="0,0 18,0 17,10 12,20 6,24 0,25" fill="#5c5a44"/>
 <polygon points="1,2 14,1 13,10 8,17 2,19" fill="#7a7050"/>
 <polygon points="18,0 34,0 30,6 26,14 20,12 16,8" fill="#8ab4d4"/>
 <polygon points="22,2 30,3 27,12 24,10" fill="#3e6a3a"/>
 <polygon points="30,0 36,0 35,14 31,16" fill="#d8e8f4"/>
 <polygon points="36,0 49.6,0 49.6,20 40,17 36,12" fill="#2e3a36"/>
 <polygon points="0,25 8,21 16,17 30,16 40,18 49.6,20 49.6,27 0,27" fill="#9cc0dc"/>
 <polygon points="6,23 20,19 36,19 46,23 30,25 10,26" fill="#d4e6f2"/>
 <polygon points="40,19 49.6,21 49.6,29.3 42,29.3" fill="#3a4a3e"/>
 <rect x="0" y="27" width="49.6" height="2.3" fill="#2a3a4a"/>
</g>
<g transform="translate(129,275)">
 <rect x="14" y="0" width="2" height="6" fill="#4a70a8"/>
 <path d="M5.5,6 Q5.5,4.5 12,4.5 H18 Q24,4.5 24,8 V33 Q24,35 22,35 H7.5 Q5.5,35 5.5,33 Z" fill="url(#blueTank)"/>
 <rect x="0" y="13.5" width="6" height="2" fill="#8a98b0"/>
 <rect x="0" y="13.5" width="2" height="9" fill="#8a98b0"/>
 <rect x="8" y="33" width="2.5" height="8" fill="#1a3a78"/>
 <rect x="19" y="33" width="2.5" height="8" fill="#1a3a78"/>
 <rect x="11" y="34" width="7" height="3" fill="#d0d4e0"/>
 <rect x="13" y="12" width="2" height="3" fill="#c0d0f0"/><rect x="13" y="20" width="2" height="2" fill="#c0d0f0"/>
</g>
<g transform="translate(110.9,385.9) scale(0.995,0.9785714285714285)">
 <rect x="19.5" y="0" width="22" height="13" fill="#1e2226"/>
 <rect x="19.5" y="0" width="22" height="1.5" fill="#5a5e62"/>
 <rect x="22" y="4" width="3" height="3" fill="#c8ccd0"/><rect x="26" y="5" width="8" height="1.5" fill="#4a9aa0"/>
 <rect x="2.5" y="2.5" width="13" height="2" rx="1" fill="#c4c2c0"/>
 <rect x="7.5" y="4" width="5" height="8" fill="#a8a6a4"/>
 <rect x="45" y="2.5" width="12.5" height="2" rx="1" fill="#c4c2c0"/>
 <rect x="47.5" y="4" width="5.5" height="8" fill="#a8a6a4"/>
 <rect x="0" y="11.5" width="60" height="7.5" rx="3.5" fill="url(#steel)"/>
 <path d="M14,19 h4 l-1,8.5 h-3.5 z" fill="#a0968a"/>
 <path d="M42,19 h4 l0.5,8.5 h-3.5 z" fill="#a0968a"/>
 <circle cx="60" cy="15" r="1.6" fill="#2a2a2a"/>
 <rect x="28" y="19" width="2" height="3" fill="#666"/>
</g>
<g transform="translate(262,221.9)"><polygon points="0,12 13.6,0 13.6,27.5 0,25.6" fill="#7e8aa4"/><polygon points="13.6,0 45.5,6.1 45.5,27.3 13.6,27.5" fill="#aaa8a6"/><rect x="15.5" y="3.2" width="2.4" height="2.6" fill="#6a5e58"/><rect x="19.8" y="4.0" width="2.4" height="2.6" fill="#6a5e58"/><rect x="24.1" y="4.8" width="2.4" height="2.6" fill="#6a5e58"/><rect x="28.4" y="5.6" width="2.4" height="2.6" fill="#6a5e58"/><rect x="32.7" y="6.5" width="2.4" height="2.6" fill="#6a5e58"/><rect x="37.0" y="7.3" width="2.4" height="2.6" fill="#6a5e58"/><rect x="41.3" y="8.1" width="2.4" height="2.6" fill="#6a5e58"/><rect x="15.5" y="8.8" width="2.4" height="2.6" fill="#6a5e58"/><rect x="19.8" y="9.6" width="2.4" height="2.6" fill="#6a5e58"/><rect x="24.1" y="10.4" width="2.4" height="2.6" fill="#6a5e58"/><rect x="28.4" y="11.2" width="2.4" height="2.6" fill="#6a5e58"/><rect x="32.7" y="12.1" width="2.4" height="2.6" fill="#6a5e58"/><rect x="37.0" y="12.9" width="2.4" height="2.6" fill="#6a5e58"/><rect x="41.3" y="13.7" width="2.4" height="2.6" fill="#6a5e58"/><rect x="15.5" y="14.4" width="2.4" height="2.6" fill="#6a5e58"/><rect x="19.8" y="15.2" width="2.4" height="2.6" fill="#6a5e58"/><rect x="24.1" y="16.0" width="2.4" height="2.6" fill="#6a5e58"/><rect x="28.4" y="16.8" width="2.4" height="2.6" fill="#6a5e58"/><rect x="32.7" y="17.7" width="2.4" height="2.6" fill="#6a5e58"/><rect x="37.0" y="18.5" width="2.4" height="2.6" fill="#6a5e58"/><rect x="41.3" y="19.3" width="2.4" height="2.6" fill="#6a5e58"/><rect x="15.5" y="20.0" width="2.4" height="2.6" fill="#6a5e58"/><rect x="19.8" y="20.8" width="2.4" height="2.6" fill="#6a5e58"/><rect x="24.1" y="21.6" width="2.4" height="2.6" fill="#6a5e58"/><rect x="28.4" y="22.4" width="2.4" height="2.6" fill="#6a5e58"/><rect x="32.7" y="23.3" width="2.4" height="2.6" fill="#6a5e58"/><rect x="37.0" y="24.1" width="2.4" height="2.6" fill="#6a5e58"/><rect x="41.3" y="24.9" width="2.4" height="2.6" fill="#6a5e58"/><rect x="1.5" y="12.0" width="2" height="2" fill="#4a5870"/><rect x="5.5" y="8.3" width="2" height="2" fill="#4a5870"/><rect x="9.5" y="4.6" width="2" height="2" fill="#4a5870"/><rect x="1.5" y="16.4" width="2" height="2" fill="#4a5870"/><rect x="5.5" y="12.7" width="2" height="2" fill="#4a5870"/><rect x="9.5" y="9.0" width="2" height="2" fill="#4a5870"/><rect x="1.5" y="20.8" width="2" height="2" fill="#4a5870"/><rect x="5.5" y="17.1" width="2" height="2" fill="#4a5870"/><rect x="9.5" y="13.4" width="2" height="2" fill="#4a5870"/><rect x="1.5" y="25.2" width="2" height="2" fill="#4a5870"/><rect x="5.5" y="21.5" width="2" height="2" fill="#4a5870"/><rect x="9.5" y="17.8" width="2" height="2" fill="#4a5870"/><polygon points="0,23.5 13.6,25 45.5,25 45.5,27.3 13.6,27.5 0,25.6" fill="#9a7a68"/></g>
<g transform="translate(346.3,213.6)">
 <path d="M0,4.5 Q0,0 39,0 Q78.5,0 78.5,4.5 V22 Q78.5,26.5 39,26.5 Q0,26.5 0,22 Z" fill="#f2f0e4"/>
 <ellipse cx="39.2" cy="4.5" rx="39" ry="4.2" fill="#e2e2da"/>
 <ellipse cx="39.2" cy="4.8" rx="37" ry="2.6" fill="#c8c8c2"/>
 <path d="M0,4.5 Q0,9 39,9 Q78.5,9 78.5,4.5 V8 Q78.5,12 39,12 Q0,12 0,8 Z" fill="#f4f2e4"/>
 <rect x="14" y="-1.5" width="3" height="3" fill="#c0bfb0"/>
</g>
<g transform="translate(472.6,196.3)">
 <path d="M5.7,3.5 Q5.7,0.4 20.3,0.4 Q35,0.4 35,3.5 V57 Q35,59.5 20.3,59.5 Q5.7,59.5 5.7,57 Z" fill="url(#cream)"/>
 <ellipse cx="20.3" cy="3.2" rx="14.6" ry="2.8" fill="#dcdcc0" stroke="#b8b89a" stroke-width="0.6"/>
 <rect x="0.5" y="6.7" width="5.5" height="6" rx="1" fill="#d8dce8"/>
 <rect x="0.5" y="6.7" width="2" height="6" fill="#3a4a80"/>
 <rect x="34" y="34.5" width="4" height="6.5" rx="1" fill="#d8dce8"/>
 <rect x="36" y="34.5" width="2" height="6.5" fill="#1a2a50"/>
 <circle cx="28" cy="56" r="1.6" fill="#505050"/>
</g>
<g transform="translate(587,204)">
 <path d="M3,11.6 V5 Q3,0.5 8,0.5 H46 Q50.5,0.5 50.5,5 V11.6 Z" fill="#b4b4b4"/>
 <path d="M3,5 Q3,0.5 8,0.5 H46 Q50.5,0.5 50.5,5 Z" fill="#cacaca"/>
 <rect x="24" y="1" width="9" height="3.5" fill="#e6e6e6" stroke="#8a8a8a" stroke-width="0.5"/>
 <rect x="35" y="1" width="9" height="3.5" fill="#e6e6e6" stroke="#8a8a8a" stroke-width="0.5"/>
 <rect x="7" y="3" width="5" height="3" fill="#8a8a8a"/>
 <polygon points="26.5,11.6 53,11.6 53,43.2 26.5,48.3" fill="#f2f2f2"/>
 <polygon points="26.5,12 52,12 52,28 26.5,33" fill="#d4d4d4"/>
 <polygon points="26.5,12 52,12 52,16 26.5,17" fill="#bcbcbc"/>
 <path d="M26.5,11.6 H53 V43.2 L26.5,48.3 M53,30 L26.5,36" fill="none" stroke="#6e6e6e" stroke-width="1.6"/>
 <rect x="0.8" y="12.4" width="25.7" height="35.9" fill="#d0d0d0" stroke="#6a6a6a" stroke-width="1.8"/>
 <circle cx="14.3" cy="25" r="10.5" fill="#555"/>
 <circle cx="14.3" cy="25" r="8.5" fill="#7c7c7c"/>
 <path d="M8,19 L20,31 M6,25 H22 M14.3,17 V33" stroke="#4a4a4a" stroke-width="0.8"/>
 <circle cx="4" cy="43.5" r="1.2" fill="#3a3a3a"/><circle cx="22" cy="43.5" r="1.2" fill="#3a3a3a"/>
</g>
<g transform="translate(686.8,211.6)">
 <polygon points="16,38 40,33 41,37 17,42" fill="#1a3a78"/>
 <polygon points="8,19 40,12 42,32 14,39" fill="#234c96"/>
 <polygon points="9,19 40,12 41,17 11,24" fill="#3a6cba"/>
 <path d="M25,12 Q26,1 35,1 Q45,1 46,9 Q47,18 42,24 L28,22 Z" fill="#2a5cb0"/>
 <ellipse cx="36" cy="6" rx="5" ry="3.5" fill="#4a82d0"/>
 <rect x="37" y="0" width="5" height="2.5" fill="#1a2a50"/>
 <path d="M19,14 L30,11.5" stroke="#1e2636" stroke-width="2.2"/>
 <ellipse cx="11" cy="29" rx="8" ry="10.5" transform="rotate(-10 11 29)" fill="#2a5aa8"/>
 <ellipse cx="11" cy="29" rx="5.8" ry="8" transform="rotate(-10 11 29)" fill="#4a80cc"/>
 <circle cx="11" cy="29" r="1.8" fill="#1a3a78"/>
 <path d="M0,19 h7 M0,23 h6 M1,27 h4" stroke="#2a3040" stroke-width="1.4"/>
 <circle cx="46" cy="13" r="2.5" fill="#e8eef8"/>
</g>
<g>
 <rect x="799.6" y="188.5" width="11" height="10" fill="#e4eae8" stroke="#a8b0b0" stroke-width="0.7"/>
 <polygon points="791.7,206.5 799.6,198 810.7,198 822.4,211.8 822.4,243.6 815,254 798,254 791.7,243.6" fill="#d6d6c6"/>
 <polygon points="791.7,206.5 799.6,198 801,198 801,254 798,254 791.7,243.6" fill="#c2c2b2"/>
 <rect x="788" y="186" width="3.7" height="56" fill="#9a9ea2"/>
 <rect x="785" y="212.5" width="4" height="3.5" fill="#7a7e82"/>
 <rect x="797.8" y="185" width="1.4" height="38" fill="#8a8c90"/>
 <rect x="804.3" y="185" width="1.3" height="46" fill="#8a8c90"/>
 <rect x="819" y="189.5" width="1.4" height="24" fill="#8a8c90"/>
 <rect x="812" y="214" width="8.8" height="8.4" fill="#f2f2f2" stroke="#7a7a7a" stroke-width="0.7"/>
 <path d="M799,254 V238 Q799,235 803,235 H810 Q813,235 813,238 V246" fill="none" stroke="#2e2e2e" stroke-width="1.2"/>
 <path d="M806,231 L812,222" stroke="#4a4a4a" stroke-width="0.8"/>
 <rect x="802.8" y="239" width="7" height="5.6" rx="2" fill="#e8c020"/>
 <rect x="817.6" y="229.8" width="5.8" height="9.5" rx="1.5" fill="#2a2a2a"/>
 <rect x="821" y="235" width="2.5" height="3" fill="#e8c020"/>
 <rect x="791.7" y="240" width="2.3" height="10" fill="#c83030"/>
 <rect x="788.5" y="246" width="2.5" height="3" fill="#2a70c0"/>
 <rect x="798" y="249" width="3" height="4" fill="#c83030"/>
 <rect x="802" y="253" width="7.7" height="4.3" rx="2" fill="#2a70c0"/>
 <rect x="817" y="240" width="2" height="8" fill="#c83030"/>
</g>
<g transform="translate(896,195.6)">
 <rect x="18" y="0" width="6" height="2.5" fill="#1a6a50"/>
 <path d="M6,12 Q6,2 21.5,2 Q37,2 37,12 V43 Q37,51 21.5,51 Q6,51 6,43 Z" fill="url(#greenTank)"/>
 <ellipse cx="4.8" cy="35.6" rx="4.6" ry="4.8" fill="#126a50"/>
 <ellipse cx="4" cy="35" rx="2.5" ry="3" fill="#1e8464"/>
 <path d="M12,48 L11,59 H14.5 L15,49 Z" fill="#0a4e3c"/>
 <path d="M30,48 L31,58.5 H34.5 L33.5,47 Z" fill="#12765a"/>
 <rect x="20" y="50" width="2.5" height="6" fill="#0a4038"/>
</g>
<g transform="translate(909,349)">
 <rect x="0" y="0" width="20.8" height="37.5" fill="url(#steelH)"/>
 <rect x="3.5" y="1.5" width="13.5" height="8" fill="#2a2c30"/>
 <rect x="5" y="3.5" width="2" height="1.5" fill="#d0d0d0"/><rect x="9" y="3.5" width="2" height="1.5" fill="#d0d0d0"/>
</g>
<g transform="translate(741.5,348)">
 <polygon points="0,4.5 89,0.7 89,31 0,25.6" fill="#f6f8fa"/>
 <polygon points="89,0.7 97,1.7 97,28.7 89,31" fill="#e6e6e6"/>
 <path d="M0,4.5 L89,0.7 L97,1.7" fill="none" stroke="#9a9a9a" stroke-width="1"/>
 <g stroke="#e2e4e8" stroke-width="0.7"><path d="M8,4.00 V19.50 M14,3.75 V19.75 M20,3.50 V20.00 M26,3.25 V20.25 M32,3.00 V20.50 M38,2.75 V20.75 M44,2.50 V21.00 M50,2.25 V21.25 M56,2.00 V21.50 M62,1.75 V21.75 M68,1.50 V22.00 M74,1.25 V22.25 M80,1.00 V22.50 M86,0.75 V22.75 "/></g>
 <polygon points="0,19.5 89,22.5 89,27 0,25" fill="#2a78c4"/>
 <polygon points="0,25 89,27 89,31 0,25.8" fill="#5e5e5e"/>
 <polygon points="89,24 97,23 97,28.7 89,31" fill="#6e6e6e"/>
 <text x="28.5" y="14.3" font-size="5.6" fill="#3a5a98" font-family="Liberation Sans" font-weight="bold">EEM生物滤箱</text>
 <ellipse cx="5.5" cy="7.5" rx="2.5" ry="1.5" fill="#3a6ab0"/><rect x="9" y="7" width="7" height="1.2" fill="#7a9ac8"/>
</g>
<g transform="translate(605,356) scale(1.055,0.975)">
 <rect x="19.5" y="0" width="22" height="13" fill="#1e2226"/>
 <rect x="19.5" y="0" width="22" height="1.5" fill="#5a5e62"/>
 <rect x="22" y="4" width="3" height="3" fill="#c8ccd0"/><rect x="26" y="5" width="8" height="1.5" fill="#4a9aa0"/>
 <rect x="2.5" y="2.5" width="13" height="2" rx="1" fill="#c4c2c0"/>
 <rect x="7.5" y="4" width="5" height="8" fill="#a8a6a4"/>
 <rect x="45" y="2.5" width="12.5" height="2" rx="1" fill="#c4c2c0"/>
 <rect x="47.5" y="4" width="5.5" height="8" fill="#a8a6a4"/>
 <rect x="0" y="11.5" width="60" height="7.5" rx="3.5" fill="url(#steel)"/>
 <path d="M14,19 h4 l-1,8.5 h-3.5 z" fill="#a0968a"/>
 <path d="M42,19 h4 l0.5,8.5 h-3.5 z" fill="#a0968a"/>
 <circle cx="60" cy="15" r="1.6" fill="#2a2a2a"/>
 <rect x="28" y="19" width="2" height="3" fill="#666"/>
</g>
<g transform="translate(507,320)">
 <rect x="5" y="0.5" width="14" height="3" rx="1.5" fill="#3a3a3a"/>
 <rect x="0" y="3" width="22" height="22" fill="#dcdde2"/>
 <rect x="11" y="3" width="11" height="22" fill="#c8c9ce"/>
 <g fill="#8a8a90"><rect x="13" y="9" width="8" height="1"/><rect x="13" y="11" width="8" height="1"/><rect x="13" y="13" width="8" height="1"/><rect x="13" y="15" width="8" height="1"/><rect x="13" y="17" width="8" height="1"/></g>
 <rect x="3" y="11" width="5" height="6" fill="#3a5aa0"/>
 <rect x="1" y="25" width="2" height="2" fill="#888"/><rect x="19" y="25" width="2" height="2" fill="#888"/>
</g>
<g transform="translate(373,323)">
 <rect x="9.5" y="1" width="7" height="2.5" rx="1" fill="#b8b8b8"/>
 <path d="M11,3.5 H15 C17,24 25.5,36 25.5,47 Q25.5,57.5 17,57.5 H9 Q0.5,57.5 0.5,47 C0.5,36 9,24 11,3.5 Z" fill="url(#steelH)"/>
 <rect x="25" y="44" width="2.5" height="4.5" fill="#9a9a9a"/>
 <circle cx="15" cy="52" r="2" fill="#5a5a5a"/>
 <rect x="6.5" y="57" width="13" height="4.5" fill="#a0a0a0"/>
 <rect x="1" y="56" width="4" height="1.5" fill="#444"/>
</g>
<g transform="translate(111.1,474)">
 <rect x="0" y="0" width="63.7" height="34.7" fill="#dfe2e2"/>
 <path d="M0,8 L10,7 L25,6.5 L33,5 L42,7 L52,6 L63.7,4 V12 H0 Z" fill="#4a5046"/>
 <rect x="36" y="7" width="10" height="5" fill="#e6e6e6"/>
 <rect x="37" y="9.5" width="3" height="2.5" fill="#f8f8f8"/><rect x="41" y="9.5" width="3" height="2.5" fill="#f8f8f8"/>
 <polygon points="0,11.5 63.7,11 63.7,15 0,14.5" fill="#7a8866"/>
 <polygon points="0,14.5 34,14.5 24,25 0,29" fill="#b4bcbc"/>
 <polygon points="34,14.5 63.7,15 63.7,34.7 0,34.7 0,29 24,25" fill="#9a958a"/>
 <polygon points="6,31.5 30,24.5 58,17 63.7,19.5 32,29.5 12,34.7" fill="#b8bcba"/>
 <g stroke="#7a6258" stroke-width="1.8"><path d="M2,33 L13,30 M16,29 L27,26 M30,25 L41,22 M44,21 L55,18"/></g>
 <polygon points="46,34.7 63.7,26 63.7,34.7" fill="#d4d4cc"/>
 <polygon points="40,22 63.7,17 63.7,24 44,30" fill="#6a7a5a"/>
</g>
<g transform="translate(319.8,464.5)">
 <polygon points="16,2.5 51.3,3.6 51.3,8.3 16,9.8" fill="#5a524e"/>
 <polygon points="16,9.8 51.3,8.3 51.3,26 16,34" fill="#dcdcdc"/>
 <polygon points="16,9.8 30,9.3 30,30 16,34" fill="#c4c4c4"/>
 <polygon points="18,27 30,25 30,34 18,37" fill="#6e7270"/>
 <polygon points="33,24 42,22 42,30 33,32" fill="#767a78"/>
 <polygon points="44,21.5 51,20 51,26 44,28" fill="#7e8280"/>
 <rect x="28" y="15" width="4" height="6" fill="#6a6a6a"/>
 <rect x="0" y="0" width="16.5" height="40" fill="#4e4e4c"/>
 <rect x="2" y="3" width="12" height="7" fill="#b8b8b6"/>
 <rect x="3" y="12" width="10" height="12" fill="#8a8a88"/>
 <rect x="4" y="25" width="9" height="9" fill="#3a3a38"/>
 <rect x="-1" y="8" width="4.5" height="9" fill="#5aa060"/>
 <rect x="6" y="33" width="7" height="5" fill="#6a9a50"/>
</g>
<g transform="translate(189,599)"><path d="M0,27 Q0,25.5 3,25.5 H95 Q98,25.5 98,27 V30.5 Q98,32.5 95,32.5 H3 Q0,32.5 0,30.5 Z" fill="#b8b8b8"/><rect x="1" y="30" width="96" height="2.5" fill="#6a6a6a"/><rect x="2" y="4" width="87.6" height="24.5" fill="#4a4e52"/><rect x="2" y="2" width="87.6" height="2.5" fill="#8a8e92"/><rect x="10" y="0.5" width="10" height="2" fill="#f0f0f0"/><rect x="30" y="0.5" width="12" height="2" fill="#f0f0f0"/><rect x="50" y="0.5" width="12" height="2" fill="#f0f0f0"/><g stroke="#3a3e42" stroke-width="0.7"><path d="M33.0,5 V28"/><path d="M34.8,5 V28"/><path d="M36.6,5 V28"/><path d="M38.4,5 V28"/><path d="M40.2,5 V28"/><path d="M42.0,5 V28"/><path d="M43.8,5 V28"/><path d="M45.6,5 V28"/><path d="M47.4,5 V28"/><path d="M49.2,5 V28"/><path d="M51.0,5 V28"/><path d="M52.8,5 V28"/><path d="M54.6,5 V28"/><path d="M56.4,5 V28"/><path d="M58.2,5 V28"/><path d="M60.0,5 V28"/><path d="M61.8,5 V28"/><path d="M63.6,5 V28"/><path d="M65.4,5 V28"/><path d="M67.2,5 V28"/><path d="M69.0,5 V28"/><path d="M70.8,5 V28"/><path d="M72.6,5 V28"/><path d="M74.4,5 V28"/><path d="M76.2,5 V28"/><path d="M78.0,5 V28"/><path d="M79.8,5 V28"/><path d="M81.6,5 V28"/><path d="M83.4,5 V28"/><path d="M85.2,5 V28"/><path d="M87.0,5 V28"/><path d="M88.8,5 V28"/></g><rect x="17" y="5" width="14.5" height="23" fill="#5a7a3a"/><circle cx="21" cy="10" r="3" fill="#7a9a4a"/><circle cx="26" cy="16" r="3" fill="#4a6a2a"/><circle cx="21" cy="22" r="3" fill="#8aa85a"/><circle cx="28" cy="25" r="2.5" fill="#6a8a3a"/><rect x="4" y="7" width="6" height="3" fill="#e8e8e8"/><rect x="11" y="7" width="3" height="3" fill="#a0c050"/><g stroke="#6a6e72" stroke-width="0.6"><path d="M4,14 H15 M4,17 H15 M4,20 H15 M4,23 H15"/></g></g>
<g transform="translate(440.8,583.2)">
 <rect x="0" y="0" width="75.5" height="46.5" fill="#5a6a70"/>
 <rect x="0" y="0" width="75.5" height="3" fill="#a8a8b8"/>
 <rect x="2" y="3" width="71" height="37" fill="#6a8a60"/>
 <rect x="4" y="6" width="29" height="30" fill="#4a7a44"/>
 <rect x="8" y="10" width="21" height="22" fill="#3e5e44"/>
 <g fill="#8aa07a"><circle cx="11" cy="13" r="1.3"/><circle cx="17" cy="13" r="1.3"/><circle cx="23" cy="13" r="1.3"/><circle cx="11" cy="24" r="1.3"/><circle cx="17" cy="24" r="1.3"/><circle cx="23" cy="24" r="1.3"/></g>
 <rect x="35" y="6" width="12" height="16" fill="#4a5a58"/>
 <rect x="49" y="5" width="1.5" height="35" fill="#b8d0c0"/>
 <rect x="52" y="10" width="12" height="18" fill="#4a607a"/>
 <rect x="64" y="7" width="1.5" height="30" fill="#a8c0a8"/>
 <rect x="66" y="8" width="7" height="30" fill="#3a6a58"/>
 <g fill="#d04040"><rect x="14" y="21" width="10" height="2"/><rect x="52" y="20" width="8" height="2"/><rect x="65" y="24" width="8" height="2"/><rect x="39" y="32" width="6" height="2"/><rect x="57" y="8" width="5" height="2"/></g>
 <rect x="45" y="4" width="2" height="8" fill="#e8b030"/>
 <rect x="0" y="38" width="75.5" height="8.5" fill="#2a4a48"/>
 <rect x="0" y="43" width="75.5" height="3.5" fill="#a0a8c0"/>
 <rect x="0" y="0" width="2" height="46.5" fill="#9098a8"/>
</g>
<g transform="translate(728.2,461)">
 <rect x="0" y="0" width="47.2" height="26.5" fill="url(#sky)"/>
 <path d="M0,9 Q10,6 20,8 Q30,5 47.2,9 V14 H0 Z" fill="#eef2f6"/>
 <ellipse cx="23.6" cy="14" rx="21" ry="2.5" fill="#2a5a88"/>
 <path d="M2.6,14 Q23.6,18 44.6,14 V26.5 H2.6 Z" fill="#b8b8b0"/>
 <rect x="0" y="16" width="3" height="10.5" fill="#a8a8a0"/><rect x="44.2" y="16" width="3" height="10.5" fill="#a8a8a0"/>
 <g stroke="#9a9a94" stroke-width="0.6"><path d="M8,17 V26 M14,17.5 V26 M20,18 V26 M26,18 V26 M32,17.5 V26 M38,17 V26"/></g>
</g>
<g transform="translate(853.8,456)">
 <rect x="3" y="0.5" width="7" height="2" fill="#2a58b0"/>
 <rect x="8.7" y="1" width="3" height="24" fill="#2a58b0"/>
 <rect x="12" y="5" width="15.5" height="17" rx="3" fill="#2a8ab0"/>
 <rect x="14" y="7" width="4" height="12" fill="#50b0d0"/>
 <rect x="26" y="9" width="2.5" height="9" fill="#1a6a90"/>
 <rect x="11" y="21" width="15" height="3" fill="#1a70a0"/>
 <rect x="0.8" y="24" width="30" height="2.3" fill="#2a58b0"/>
 <rect x="8" y="26" width="9.5" height="18" fill="#2a58b0"/>
 <rect x="10" y="26" width="3" height="16" fill="#4a80d0"/>
 <path d="M8,42 Q8,48.5 16,48.5 H26 V44 H17.5 V40 Z" fill="#2450a0"/>
 <rect x="24" y="46" width="6" height="2" fill="#8a90a0"/>
</g>
<g transform="translate(698,596)">
 <rect x="0" y="0" width="64" height="34" fill="#3a8a3a"/>
 <rect x="0" y="0" width="64" height="5" fill="#eef2ec"/>
 <path d="M0,4 Q3,1.5 8,3 Q11,2 15,3.5 L17,5 Q20,2 26,3.5 Q30,1 36,2.5 Q40,0.5 46,2 Q52,1 56,3 Q60,2 64,3 V7 H0 Z" fill="#2e3e2c"/>
 <polygon points="0,14 20,10 40,9 64,12 64,34 0,34" fill="#2f7e34"/>
 <g stroke="#58a24e" stroke-width="1.5"><path d="M0,18 Q30,13 64,16 M0,23 Q28,17 64,21 M0,28 Q30,22 64,26 M2,33 Q30,27 64,31"/></g>
 <g stroke="#2a6e30" stroke-width="1"><path d="M0,20.5 Q30,15 64,18.5 M0,25.5 Q30,20 64,23.5 M0,30.5 Q30,25 64,28.5"/></g>
 <path d="M0,7 Q20,5 40,6 Q55,6 64,8 V15 Q50,11 40,13 Q25,14 0,18 Z" fill="#e2eadc" opacity="0.92"/>
 <path d="M42,12 Q52,10 60,20 Q62,26 64,28 V14 Z" fill="#dfe8d8" opacity="0.7"/>
</g>
<g transform="translate(806.3,595)">
 <rect x="0" y="0" width="63.7" height="35" fill="#2a3830"/>
 <rect x="0" y="0" width="63.7" height="5" fill="#dfe6e0"/>
 <path d="M0,2 Q8,6 14,2 Q22,7 30,3 Q40,8 48,2 Q56,6 63.7,3 V10 Q50,14 40,8 Q28,14 18,8 Q10,12 0,9 Z" fill="#4a6a3c"/>
 <path d="M4,24 Q6,17 12,17 Q18,17 20,24 Z" fill="#8a9894" opacity="0.85"/>
 <path d="M18,26 Q22,8 32,7 Q44,8 52,26 Z" fill="#d8e2de" opacity="0.9"/>
 <path d="M24,26 Q28,14 33,13 Q42,14 47,26 Z" fill="#9aaaa4" opacity="0.9"/>
 <path d="M46,26 Q50,19 55,19 Q61,20 63.7,26 Z" fill="#b0bcb8" opacity="0.8"/>
 <rect x="0" y="24" width="63.7" height="11" fill="#a8ae4e"/>
 <rect x="0" y="24" width="63.7" height="2" fill="#c4c676"/>
 <ellipse cx="26" cy="27" rx="6" ry="3" fill="#e0e6c0" opacity="0.8"/>
</g>
<g transform="translate(909,595)">
 <rect x="0" y="0" width="64.7" height="35" fill="#2e4a2c"/>
 <rect x="0" y="0" width="28" height="22" fill="#4e7a42"/>
 <rect x="6" y="0" width="10" height="12" fill="#6a9458"/>
 <path d="M34,35 L36,14 L40,6 L44,12 L48,2 L52,10 L56,3 L60,9 L64.7,4 V35 Z" fill="#1c3a1a"/>
 <ellipse cx="24" cy="19" rx="13" ry="6.5" fill="#c8d0c8" opacity="0.85"/>
 <ellipse cx="22" cy="19" rx="7" ry="4" fill="#e8ece8" opacity="0.9"/>
 <path d="M26,16 Q40,4 56,4" stroke="#e4eae4" stroke-width="2" fill="none"/>
 <path d="M13,33 L20,18" stroke="#b03028" stroke-width="1.8"/>
 <rect x="0" y="31" width="64.7" height="4" fill="#3e6a30"/>
 <rect x="56" y="20" width="8" height="11" fill="#5a8a48"/>
</g>
<text x="712" y="369.3" font-size="8" font-weight="bold" fill="#ffffff" font-family="Liberation Sans">加速</text>
</svg>
<div style="position:absolute;left:80px;top:100px;width:4px;height:67px;background:#1a5fb4"></div>
<div class="t" id="ttl" style="left:95px;top:98px;font-size:32px;color:#1a5aaa;transform-origin:0 0;transform:scaleX(0.7);letter-spacing:5px;-webkit-text-stroke:0.6px #1a5aaa">PROCESS FLOWCHART</div>
<div class="t" id="cn" style="left:96px;top:142px;font-size:26.5px;transform-origin:0 0;transform:scaleY(0.8);font-weight:bold;color:#1a5aaa;font-family:'Liberation Serif',serif">工艺流程图</div>
<div class="t" id="t1" style="left:164px;top:173px;font-size:22px;color:#1ea845;transform-origin:0 0;transform:scaleY(0.9);-webkit-text-stroke:0.3px #1ea845">外源水</div>
<div class="t" id="t2" style="left:620.5px;top:173px;font-size:22px;color:#1f62b0;transform-origin:0 0;transform:scaleY(0.9);-webkit-text-stroke:0.3px #1f62b0">循环水</div>
<div class="t" id="t3" style="left:485.5px;top:444px;font-size:21.5px;color:#f29a1e;transform-origin:0 0;transform:scaleY(0.9);-webkit-text-stroke:0.3px #f29a1e">养殖尾水</div>
<div class="lb" style="left:42.69999999999999px;top:222px;color:#2fa04a;font-size:11px;font-weight:normal">源水</div>
<div class="lb" style="left:41.5px;top:324px;color:#2fa04a;font-size:11px;font-weight:normal">过滤</div>
<div class="lb" style="left:42.69999999999999px;top:416px;color:#2fa04a;font-size:11px;font-weight:normal">消毒杀菌</div>
<div class="lb" style="left:185.14999999999998px;top:263.4px;color:#2fa04a;font-size:11px;font-weight:normal">高位蓄水池</div>
<div class="lb" style="left:184.85000000000002px;top:324.4px;color:#2fa04a;font-size:11px;font-weight:normal">调温系统</div>
<div class="lb" style="left:286.5px;top:263.4px;color:#2d66b0;font-size:11px;font-weight:normal">养殖鱼池</div>
<div class="lb" style="left:392.8px;top:263.4px;color:#2d66b0;font-size:11px;font-weight:normal">集污器</div>
<div class="lb" style="left:517.0px;top:263.4px;color:#2d66b0;font-size:11px;font-weight:normal">转鼓微滤机</div>
<div class="lb" style="left:613.0px;top:263.4px;color:#2d66b0;font-size:11px;font-weight:normal">循环泵</div>
<div class="lb" style="left:708.5999999999999px;top:263.4px;color:#2d66b0;font-size:11px;font-weight:normal">蛋白分离器</div>
<div class="lb" style="left:818.4px;top:263.4px;color:#2d66b0;font-size:11px;font-weight:normal">脱气仓</div>
<div class="lb" style="left:286.5px;top:393.3px;color:#2d66b0;font-size:11px;font-weight:normal">溶氧锥</div>
<div class="lb" style="left:537.0px;top:393.3px;color:#2d66b0;font-size:11px;font-weight:normal">紫外消毒器</div>
<div class="lb" style="left:694.45px;top:394px;color:#2d66b0;font-size:11px;font-weight:normal">Sound高效生态滤池</div>
<div class="lb" style="left:819.2px;top:394px;color:#2d66b0;font-size:11px;font-weight:normal">臭氧消毒</div>
<div class="lb" style="left:451.65px;top:328.8px;color:#2d66b0;font-size:11.2px;font-weight:normal">恒温机</div>
<div class="lb" style="left:42.849999999999994px;top:513.3px;color:#f09c28;font-size:11px;font-weight:normal">养殖尾水</div>
<div class="lb" style="left:245.5px;top:513.3px;color:#f09c28;font-size:11px;font-weight:normal">转鼓微滤机</div>
<div class="lb" style="left:131.85px;top:637.5px;color:#f09c28;font-size:11px;font-weight:normal">Sound尾水处理发酵槽</div>
<div class="lb" style="left:377.85px;top:637.5px;color:#f09c28;font-size:11px;font-weight:normal">生态治理</div>
<div class="lb" style="left:652.75px;top:492px;color:#f09c28;font-size:11px;font-weight:normal">储水池</div>
<div class="lb" style="left:738.0999999999999px;top:493px;color:#f09c28;font-size:11px;font-weight:normal">提升泵</div>
<div class="lb" style="left:627.25px;top:638.3px;color:#f09c28;font-size:11px;font-weight:normal">农田灌溉</div>
<div class="lb" style="left:736.5px;top:638.3px;color:#f09c28;font-size:11px;font-weight:normal">绿化浇灌</div>
<div class="lb" style="left:841.0px;top:638.3px;color:#f09c28;font-size:11px;font-weight:normal">其他</div>
</body></html>
